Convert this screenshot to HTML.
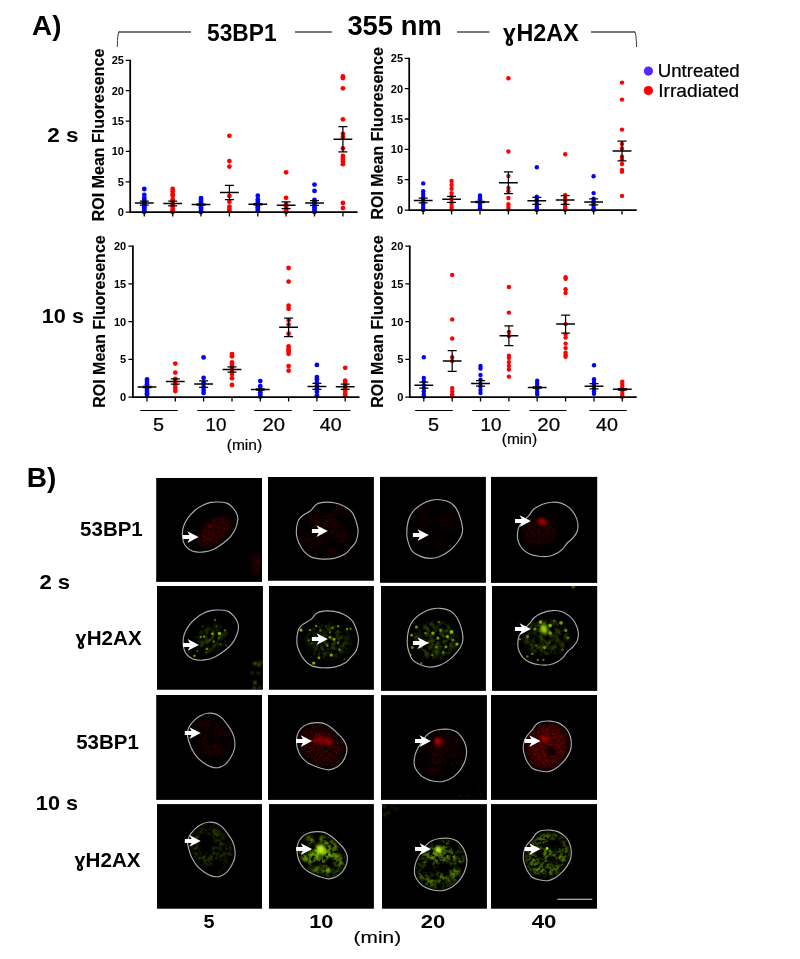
<!DOCTYPE html>
<html lang="en"><head><meta charset="utf-8"><title>Figure</title><style>html,body{margin:0;padding:0;background:#fff}svg{display:block}</style></head><body>
<svg width="800" height="959" viewBox="0 0 800 959" font-family="'Liberation Sans', Arial, sans-serif">
<rect width="800" height="959" fill="#fff"/>
<defs>
<filter id="b05" x="-50%" y="-50%" width="200%" height="200%"><feGaussianBlur stdDeviation="0.75"/></filter>
<filter id="b0" x="-50%" y="-50%" width="200%" height="200%"><feGaussianBlur stdDeviation="0.55"/></filter>
<filter id="b1" x="-50%" y="-50%" width="200%" height="200%"><feGaussianBlur stdDeviation="0.9"/></filter>
<filter id="b2" x="-50%" y="-50%" width="200%" height="200%"><feGaussianBlur stdDeviation="1.6"/></filter>
<filter id="b3" x="-50%" y="-50%" width="200%" height="200%"><feGaussianBlur stdDeviation="3"/></filter>
<filter id="nz" x="0" y="0" width="100%" height="100%"><feTurbulence type="fractalNoise" baseFrequency="0.22" numOctaves="2" seed="3" result="t"/><feColorMatrix in="t" type="matrix" values="0 0 0 0 0  0 0 0 0 0  0 0 0 0 0  3.2 0 0 0 -1.1" result="a"/><feComposite in="SourceGraphic" in2="a" operator="in"/><feGaussianBlur stdDeviation="0.5"/></filter>
<filter id="nz2" x="0" y="0" width="100%" height="100%"><feTurbulence type="fractalNoise" baseFrequency="0.16" numOctaves="2" seed="11" result="t"/><feColorMatrix in="t" type="matrix" values="0 0 0 0 0  0 0 0 0 0  0 0 0 0 0  4 0 0 0 -1.5" result="a"/><feComposite in="SourceGraphic" in2="a" operator="in"/><feGaussianBlur stdDeviation="0.6"/></filter>
</defs>
<g>
<g fill="#0000ff"><circle cx="144.3" cy="189.0" r="2.4"/><circle cx="144.3" cy="194.8" r="2.4"/><circle cx="144.3" cy="198.1" r="2.4"/><circle cx="144.3" cy="200.0" r="2.4"/><circle cx="144.3" cy="201.8" r="2.4"/><circle cx="144.3" cy="203.6" r="2.4"/><circle cx="144.3" cy="205.4" r="2.4"/><circle cx="144.3" cy="207.2" r="2.4"/><circle cx="144.3" cy="209.1" r="2.4"/><circle cx="144.3" cy="210.9" r="2.4"/><circle cx="144.3" cy="212.1" r="2.4"/></g>
<g fill="#ff0000"><circle cx="172.7" cy="189.0" r="2.4"/><circle cx="172.7" cy="191.5" r="2.4"/><circle cx="172.7" cy="193.9" r="2.4"/><circle cx="172.7" cy="195.7" r="2.4"/><circle cx="172.7" cy="199.4" r="2.4"/><circle cx="172.7" cy="201.8" r="2.4"/><circle cx="172.7" cy="204.2" r="2.4"/><circle cx="172.7" cy="206.6" r="2.4"/><circle cx="172.7" cy="209.1" r="2.4"/><circle cx="172.7" cy="210.9" r="2.4"/><circle cx="172.7" cy="212.1" r="2.4"/></g>
<g fill="#0000ff"><circle cx="201.0" cy="198.1" r="2.4"/><circle cx="201.0" cy="200.0" r="2.4"/><circle cx="201.0" cy="201.8" r="2.4"/><circle cx="201.0" cy="203.6" r="2.4"/><circle cx="201.0" cy="205.4" r="2.4"/><circle cx="201.0" cy="207.2" r="2.4"/><circle cx="201.0" cy="209.1" r="2.4"/><circle cx="201.0" cy="210.9" r="2.4"/><circle cx="201.0" cy="212.1" r="2.4"/></g>
<g fill="#ff0000"><circle cx="229.4" cy="135.8" r="2.4"/><circle cx="229.4" cy="161.1" r="2.4"/><circle cx="229.4" cy="166.6" r="2.4"/><circle cx="229.4" cy="195.9" r="2.4"/><circle cx="229.4" cy="201.8" r="2.4"/><circle cx="229.4" cy="206.6" r="2.4"/><circle cx="229.4" cy="208.8" r="2.4"/><circle cx="229.4" cy="210.9" r="2.4"/></g>
<g fill="#0000ff"><circle cx="257.8" cy="195.7" r="2.4"/><circle cx="257.8" cy="199.4" r="2.4"/><circle cx="257.8" cy="201.8" r="2.4"/><circle cx="257.8" cy="203.6" r="2.4"/><circle cx="257.8" cy="205.4" r="2.4"/><circle cx="257.8" cy="207.2" r="2.4"/><circle cx="257.8" cy="209.1" r="2.4"/><circle cx="257.8" cy="210.9" r="2.4"/></g>
<g fill="#ff0000"><circle cx="286.1" cy="172.3" r="2.4"/><circle cx="286.1" cy="197.8" r="2.4"/><circle cx="286.1" cy="204.2" r="2.4"/><circle cx="286.1" cy="206.6" r="2.4"/><circle cx="286.1" cy="208.5" r="2.4"/><circle cx="286.1" cy="210.3" r="2.4"/><circle cx="286.1" cy="212.1" r="2.4"/></g>
<g fill="#0000ff"><circle cx="314.5" cy="184.6" r="2.4"/><circle cx="314.5" cy="190.9" r="2.4"/><circle cx="314.5" cy="200.0" r="2.4"/><circle cx="314.5" cy="201.8" r="2.4"/><circle cx="314.5" cy="203.6" r="2.4"/><circle cx="314.5" cy="205.4" r="2.4"/><circle cx="314.5" cy="207.2" r="2.4"/><circle cx="314.5" cy="209.1" r="2.4"/><circle cx="314.5" cy="210.9" r="2.4"/><circle cx="314.5" cy="212.1" r="2.4"/></g>
<g fill="#ff0000"><circle cx="342.9" cy="76.5" r="2.4"/><circle cx="342.9" cy="78.0" r="2.4"/><circle cx="342.9" cy="88.3" r="2.4"/><circle cx="342.9" cy="119.3" r="2.4"/><circle cx="342.9" cy="133.8" r="2.4"/><circle cx="342.9" cy="136.9" r="2.4"/><circle cx="342.9" cy="148.4" r="2.4"/><circle cx="342.9" cy="155.9" r="2.4"/><circle cx="342.9" cy="158.7" r="2.4"/><circle cx="342.9" cy="161.4" r="2.4"/><circle cx="342.9" cy="164.2" r="2.4"/><circle cx="342.9" cy="203.0" r="2.4"/><circle cx="342.9" cy="208.1" r="2.4"/></g>
<path d="M130.2 59.8V212.1H357.6" fill="none" stroke="#000" stroke-width="1.75"/>
<path d="M125.7 212.1H130.2M125.7 181.8H130.2M125.7 151.4H130.2M125.7 121.1H130.2M125.7 90.7H130.2M125.7 60.4H130.2M144.3 212.1V216.5M172.7 212.1V216.5M201.0 212.1V216.5M229.4 212.1V216.5M257.8 212.1V216.5M286.1 212.1V216.5M314.5 212.1V216.5M342.9 212.1V216.5" fill="none" stroke="#000" stroke-width="1.3"/>
<text x="123.9" y="216.0" font-size="11" font-weight="bold" text-anchor="end">0</text>
<text x="123.9" y="185.7" font-size="11" font-weight="bold" text-anchor="end">5</text>
<text x="123.9" y="155.3" font-size="11" font-weight="bold" text-anchor="end">10</text>
<text x="123.9" y="125.0" font-size="11" font-weight="bold" text-anchor="end">15</text>
<text x="123.9" y="94.6" font-size="11" font-weight="bold" text-anchor="end">20</text>
<text x="123.9" y="64.3" font-size="11" font-weight="bold" text-anchor="end">25</text>
<path d="M134.9 203.1H153.7M163.3 203.4H182.1M191.6 204.6H210.4M220.0 192.4H238.8M248.4 204.3H267.2M276.8 205.2H295.5M305.1 203.0H323.9M333.5 139.3H352.3" fill="none" stroke="#000" stroke-width="1.5"/>
<path d="M144.3 201.1V205.1M139.8 201.1H148.8M139.8 205.1H148.8M172.7 201.0V205.8M168.2 201.0H177.2M168.2 205.8H177.2M196.5 204.0H205.5M196.5 205.2H205.5M229.4 185.3V199.5M224.9 185.3H233.9M224.9 199.5H233.9M253.3 203.7H262.3M253.3 204.9H262.3M286.1 201.8V208.5M281.6 201.8H290.6M281.6 208.5H290.6M314.5 200.6V205.4M310.0 200.6H319.0M310.0 205.4H319.0M342.9 126.7V151.9M338.4 126.7H347.4M338.4 151.9H347.4" fill="none" stroke="#000" stroke-width="1.25"/>
<text transform="translate(103.6 221.2) rotate(-90)" font-size="16" font-weight="bold" stroke="#000" stroke-width="0.12">ROI Mean Fluoresence</text>
</g>
<g>
<g fill="#0000ff"><circle cx="423.2" cy="183.4" r="2.2"/><circle cx="423.2" cy="191.3" r="2.2"/><circle cx="423.2" cy="194.0" r="2.2"/><circle cx="423.2" cy="196.7" r="2.2"/><circle cx="423.2" cy="199.8" r="2.2"/><circle cx="423.2" cy="202.2" r="2.2"/><circle cx="423.2" cy="204.6" r="2.2"/><circle cx="423.2" cy="207.1" r="2.2"/><circle cx="423.2" cy="208.9" r="2.2"/><circle cx="423.2" cy="210.1" r="2.2"/></g>
<g fill="#ff0000"><circle cx="451.6" cy="181.0" r="2.2"/><circle cx="451.6" cy="184.9" r="2.2"/><circle cx="451.6" cy="188.8" r="2.2"/><circle cx="451.6" cy="193.1" r="2.2"/><circle cx="451.6" cy="196.7" r="2.2"/><circle cx="451.6" cy="199.8" r="2.2"/><circle cx="451.6" cy="204.0" r="2.2"/><circle cx="451.6" cy="207.1" r="2.2"/><circle cx="451.6" cy="209.5" r="2.2"/></g>
<g fill="#0000ff"><circle cx="480.0" cy="195.5" r="2.2"/><circle cx="480.0" cy="197.3" r="2.2"/><circle cx="480.0" cy="199.2" r="2.2"/><circle cx="480.0" cy="201.0" r="2.2"/><circle cx="480.0" cy="202.8" r="2.2"/><circle cx="480.0" cy="204.6" r="2.2"/><circle cx="480.0" cy="206.5" r="2.2"/><circle cx="480.0" cy="208.3" r="2.2"/></g>
<g fill="#ff0000"><circle cx="508.4" cy="78.3" r="2.2"/><circle cx="508.4" cy="151.5" r="2.2"/><circle cx="508.4" cy="176.1" r="2.2"/><circle cx="508.4" cy="187.9" r="2.2"/><circle cx="508.4" cy="191.3" r="2.2"/><circle cx="508.4" cy="198.0" r="2.2"/><circle cx="508.4" cy="204.3" r="2.2"/><circle cx="508.4" cy="207.1" r="2.2"/><circle cx="508.4" cy="209.5" r="2.2"/></g>
<g fill="#0000ff"><circle cx="536.8" cy="167.2" r="2.2"/><circle cx="536.8" cy="196.7" r="2.2"/><circle cx="536.8" cy="199.2" r="2.2"/><circle cx="536.8" cy="201.6" r="2.2"/><circle cx="536.8" cy="204.0" r="2.2"/><circle cx="536.8" cy="206.5" r="2.2"/><circle cx="536.8" cy="208.3" r="2.2"/><circle cx="536.8" cy="210.1" r="2.2"/></g>
<g fill="#ff0000"><circle cx="565.2" cy="154.3" r="2.2"/><circle cx="565.2" cy="194.9" r="2.2"/><circle cx="565.2" cy="198.0" r="2.2"/><circle cx="565.2" cy="201.0" r="2.2"/><circle cx="565.2" cy="204.0" r="2.2"/><circle cx="565.2" cy="206.5" r="2.2"/><circle cx="565.2" cy="208.3" r="2.2"/><circle cx="565.2" cy="210.1" r="2.2"/></g>
<g fill="#0000ff"><circle cx="593.6" cy="176.2" r="2.2"/><circle cx="593.6" cy="193.1" r="2.2"/><circle cx="593.6" cy="198.6" r="2.2"/><circle cx="593.6" cy="201.0" r="2.2"/><circle cx="593.6" cy="203.4" r="2.2"/><circle cx="593.6" cy="205.8" r="2.2"/><circle cx="593.6" cy="208.3" r="2.2"/><circle cx="593.6" cy="210.1" r="2.2"/></g>
<g fill="#ff0000"><circle cx="622.0" cy="82.6" r="2.2"/><circle cx="622.0" cy="99.6" r="2.2"/><circle cx="622.0" cy="129.6" r="2.2"/><circle cx="622.0" cy="143.9" r="2.2"/><circle cx="622.0" cy="148.5" r="2.2"/><circle cx="622.0" cy="156.7" r="2.2"/><circle cx="622.0" cy="159.4" r="2.2"/><circle cx="622.0" cy="164.0" r="2.2"/><circle cx="622.0" cy="170.0" r="2.2"/><circle cx="622.0" cy="171.8" r="2.2"/><circle cx="622.0" cy="195.9" r="2.2"/></g>
<path d="M409.2 57.7V210.1H636.7" fill="none" stroke="#000" stroke-width="1.75"/>
<path d="M404.7 210.1H409.2M404.7 179.7H409.2M404.7 149.4H409.2M404.7 119.0H409.2M404.7 88.7H409.2M404.7 58.3H409.2M423.2 210.1V214.5M451.6 210.1V214.5M480.0 210.1V214.5M508.4 210.1V214.5M536.8 210.1V214.5M565.2 210.1V214.5M593.6 210.1V214.5M622.0 210.1V214.5" fill="none" stroke="#000" stroke-width="1.3"/>
<text x="403.1" y="214.0" font-size="11" font-weight="bold" text-anchor="end">0</text>
<text x="403.1" y="183.6" font-size="11" font-weight="bold" text-anchor="end">5</text>
<text x="403.1" y="153.3" font-size="11" font-weight="bold" text-anchor="end">10</text>
<text x="403.1" y="122.9" font-size="11" font-weight="bold" text-anchor="end">15</text>
<text x="403.1" y="92.6" font-size="11" font-weight="bold" text-anchor="end">20</text>
<text x="403.1" y="62.2" font-size="11" font-weight="bold" text-anchor="end">25</text>
<path d="M413.8 200.4H432.6M442.2 199.3H461.0M470.6 201.9H489.4M499.0 182.8H517.8M527.4 200.8H546.2M555.8 199.9H574.6M584.2 201.9H603.0M612.6 151.0H631.4" fill="none" stroke="#000" stroke-width="1.5"/>
<path d="M423.2 198.0V202.8M418.7 198.0H427.7M418.7 202.8H427.7M451.6 196.3V202.3M447.1 196.3H456.1M447.1 202.3H456.1M475.5 201.3H484.5M475.5 202.5H484.5M508.4 171.8V193.7M503.9 171.8H512.9M503.9 193.7H512.9M536.8 197.3V204.3M532.3 197.3H541.3M532.3 204.3H541.3M565.2 195.5V204.3M560.7 195.5H569.7M560.7 204.3H569.7M593.6 198.9V204.9M589.1 198.9H598.1M589.1 204.9H598.1M622.0 141.2V160.9M617.5 141.2H626.5M617.5 160.9H626.5" fill="none" stroke="#000" stroke-width="1.25"/>
<text transform="translate(383.2 219.6) rotate(-90)" font-size="16" font-weight="bold" stroke="#000" stroke-width="0.12">ROI Mean Fluoresence</text>
</g>
<g>
<g fill="#0000ff"><circle cx="147.0" cy="379.5" r="2.4"/><circle cx="147.0" cy="382.0" r="2.4"/><circle cx="147.0" cy="384.3" r="2.4"/><circle cx="147.0" cy="386.5" r="2.4"/><circle cx="147.0" cy="388.8" r="2.4"/><circle cx="147.0" cy="391.1" r="2.4"/><circle cx="147.0" cy="393.3" r="2.4"/><circle cx="147.0" cy="394.8" r="2.4"/></g>
<g fill="#ff0000"><circle cx="175.3" cy="363.6" r="2.4"/><circle cx="175.3" cy="372.6" r="2.4"/><circle cx="175.3" cy="379.0" r="2.4"/><circle cx="175.3" cy="382.0" r="2.4"/><circle cx="175.3" cy="385.0" r="2.4"/><circle cx="175.3" cy="388.0" r="2.4"/><circle cx="175.3" cy="391.1" r="2.4"/></g>
<g fill="#0000ff"><circle cx="203.6" cy="357.4" r="2.4"/><circle cx="203.6" cy="377.9" r="2.4"/><circle cx="203.6" cy="382.8" r="2.4"/><circle cx="203.6" cy="386.9" r="2.4"/><circle cx="203.6" cy="389.9" r="2.4"/><circle cx="203.6" cy="392.9" r="2.4"/></g>
<g fill="#ff0000"><circle cx="232.0" cy="354.1" r="2.4"/><circle cx="232.0" cy="356.3" r="2.4"/><circle cx="232.0" cy="362.4" r="2.4"/><circle cx="232.0" cy="365.0" r="2.4"/><circle cx="232.0" cy="368.0" r="2.4"/><circle cx="232.0" cy="371.1" r="2.4"/><circle cx="232.0" cy="374.1" r="2.4"/><circle cx="232.0" cy="378.2" r="2.4"/><circle cx="232.0" cy="385.0" r="2.4"/></g>
<g fill="#0000ff"><circle cx="260.3" cy="381.1" r="2.4"/><circle cx="260.3" cy="386.2" r="2.4"/><circle cx="260.3" cy="389.6" r="2.4"/><circle cx="260.3" cy="392.2" r="2.4"/><circle cx="260.3" cy="394.8" r="2.4"/><circle cx="260.3" cy="396.6" r="2.4"/></g>
<g fill="#ff0000"><circle cx="288.6" cy="268.0" r="2.4"/><circle cx="288.6" cy="281.6" r="2.4"/><circle cx="288.6" cy="305.7" r="2.4"/><circle cx="288.6" cy="308.8" r="2.4"/><circle cx="288.6" cy="320.1" r="2.4"/><circle cx="288.6" cy="324.6" r="2.4"/><circle cx="288.6" cy="333.7" r="2.4"/><circle cx="288.6" cy="346.5" r="2.4"/><circle cx="288.6" cy="349.2" r="2.4"/><circle cx="288.6" cy="351.6" r="2.4"/><circle cx="288.6" cy="353.8" r="2.4"/><circle cx="288.6" cy="366.1" r="2.4"/><circle cx="288.6" cy="370.7" r="2.4"/></g>
<g fill="#0000ff"><circle cx="316.9" cy="364.9" r="2.4"/><circle cx="316.9" cy="377.1" r="2.4"/><circle cx="316.9" cy="379.3" r="2.4"/><circle cx="316.9" cy="382.8" r="2.4"/><circle cx="316.9" cy="385.8" r="2.4"/><circle cx="316.9" cy="388.8" r="2.4"/><circle cx="316.9" cy="391.8" r="2.4"/><circle cx="316.9" cy="395.6" r="2.4"/></g>
<g fill="#ff0000"><circle cx="345.2" cy="367.8" r="2.4"/><circle cx="345.2" cy="380.7" r="2.4"/><circle cx="345.2" cy="382.8" r="2.4"/><circle cx="345.2" cy="385.8" r="2.4"/><circle cx="345.2" cy="388.4" r="2.4"/><circle cx="345.2" cy="391.1" r="2.4"/><circle cx="345.2" cy="393.7" r="2.4"/><circle cx="345.2" cy="396.0" r="2.4"/></g>
<path d="M132.9 245.5V397.1H359.5" fill="none" stroke="#000" stroke-width="1.75"/>
<path d="M128.4 397.1H132.9M128.4 359.4H132.9M128.4 321.6H132.9M128.4 283.9H132.9M128.4 246.1H132.9M147.0 397.1V401.5M175.3 397.1V401.5M203.6 397.1V401.5M232.0 397.1V401.5M260.3 397.1V401.5M288.6 397.1V401.5M316.9 397.1V401.5M345.2 397.1V401.5" fill="none" stroke="#000" stroke-width="1.3"/>
<text x="126.2" y="401.0" font-size="11" font-weight="bold" text-anchor="end">0</text>
<text x="126.2" y="363.2" font-size="11" font-weight="bold" text-anchor="end">5</text>
<text x="126.2" y="325.5" font-size="11" font-weight="bold" text-anchor="end">10</text>
<text x="126.2" y="287.8" font-size="11" font-weight="bold" text-anchor="end">15</text>
<text x="126.2" y="250.0" font-size="11" font-weight="bold" text-anchor="end">20</text>
<path d="M137.6 386.9H156.4M165.9 381.5H184.7M194.2 384.1H213.0M222.6 369.5H241.4M250.9 389.6H269.7M279.2 327.3H298.0M307.5 386.4H326.3M335.8 386.8H354.6" fill="none" stroke="#000" stroke-width="1.5"/>
<path d="M142.5 386.3H151.5M142.5 387.5H151.5M175.3 378.9V384.2M170.8 378.9H179.8M170.8 384.2H179.8M203.6 380.9V387.3M199.1 380.9H208.1M199.1 387.3H208.1M232.0 366.9V372.2M227.5 366.9H236.5M227.5 372.2H236.5M255.8 388.9H264.8M255.8 390.2H264.8M288.6 318.1V336.5M284.1 318.1H293.1M284.1 336.5H293.1M316.9 383.4V389.3M312.4 383.4H321.4M312.4 389.3H321.4M345.2 384.2V389.3M340.7 384.2H349.7M340.7 389.3H349.7" fill="none" stroke="#000" stroke-width="1.25"/>
<text transform="translate(105.3 407.8) rotate(-90)" font-size="16" font-weight="bold" stroke="#000" stroke-width="0.12">ROI Mean Fluoresence</text>
<path d="M140.2 410.5H177.8M197.2 410.5H234.8M254.2 410.5H291.7M313.0 410.5H350.5" stroke="#000" stroke-width="1.1" fill="none"/>
<text transform="translate(152.95 430.56) scale(1 0.940)" font-size="19.89" stroke="#000" stroke-width="0.25">5</text>
<text transform="translate(205.59 430.57) scale(1 0.981)" font-size="18.80" stroke="#000" stroke-width="0.25">10</text>
<text transform="translate(262.49 430.57) scale(1 0.911)" font-size="20.24" stroke="#000" stroke-width="0.25">20</text>
<text transform="translate(319.76 430.57) scale(1 0.942)" font-size="19.57" stroke="#000" stroke-width="0.25">40</text>
<text transform="translate(226.73 450.15) scale(1 0.961)" font-size="15.57" stroke="#000" stroke-width="0.2">(min)</text>
</g>
<g>
<g fill="#0000ff"><circle cx="423.8" cy="357.2" r="2.2"/><circle cx="423.8" cy="377.9" r="2.2"/><circle cx="423.8" cy="381.3" r="2.2"/><circle cx="423.8" cy="385.1" r="2.2"/><circle cx="423.8" cy="388.1" r="2.2"/><circle cx="423.8" cy="391.2" r="2.2"/><circle cx="423.8" cy="394.2" r="2.2"/><circle cx="423.8" cy="396.6" r="2.2"/></g>
<g fill="#ff0000"><circle cx="452.2" cy="274.9" r="2.2"/><circle cx="452.2" cy="319.4" r="2.2"/><circle cx="452.2" cy="338.5" r="2.2"/><circle cx="452.2" cy="357.3" r="2.2"/><circle cx="452.2" cy="361.0" r="2.2"/><circle cx="452.2" cy="388.1" r="2.2"/><circle cx="452.2" cy="391.2" r="2.2"/><circle cx="452.2" cy="394.2" r="2.2"/><circle cx="452.2" cy="396.4" r="2.2"/></g>
<g fill="#0000ff"><circle cx="480.5" cy="365.9" r="2.2"/><circle cx="480.5" cy="368.5" r="2.2"/><circle cx="480.5" cy="375.0" r="2.2"/><circle cx="480.5" cy="379.8" r="2.2"/><circle cx="480.5" cy="383.6" r="2.2"/><circle cx="480.5" cy="386.6" r="2.2"/><circle cx="480.5" cy="390.0" r="2.2"/><circle cx="480.5" cy="393.0" r="2.2"/></g>
<g fill="#ff0000"><circle cx="508.9" cy="287.0" r="2.2"/><circle cx="508.9" cy="312.6" r="2.2"/><circle cx="508.9" cy="331.9" r="2.2"/><circle cx="508.9" cy="336.0" r="2.2"/><circle cx="508.9" cy="355.7" r="2.2"/><circle cx="508.9" cy="357.9" r="2.2"/><circle cx="508.9" cy="362.1" r="2.2"/><circle cx="508.9" cy="365.9" r="2.2"/><circle cx="508.9" cy="369.6" r="2.2"/><circle cx="508.9" cy="376.6" r="2.2"/></g>
<g fill="#0000ff"><circle cx="537.2" cy="380.6" r="2.2"/><circle cx="537.2" cy="382.9" r="2.2"/><circle cx="537.2" cy="385.1" r="2.2"/><circle cx="537.2" cy="387.4" r="2.2"/><circle cx="537.2" cy="389.6" r="2.2"/><circle cx="537.2" cy="391.9" r="2.2"/><circle cx="537.2" cy="394.3" r="2.2"/></g>
<g fill="#ff0000"><circle cx="565.6" cy="277.2" r="2.2"/><circle cx="565.6" cy="278.7" r="2.2"/><circle cx="565.6" cy="289.2" r="2.2"/><circle cx="565.6" cy="293.0" r="2.2"/><circle cx="565.6" cy="324.1" r="2.2"/><circle cx="565.6" cy="334.5" r="2.2"/><circle cx="565.6" cy="337.6" r="2.2"/><circle cx="565.6" cy="343.6" r="2.2"/><circle cx="565.6" cy="348.1" r="2.2"/><circle cx="565.6" cy="352.8" r="2.2"/><circle cx="565.6" cy="354.9" r="2.2"/><circle cx="565.6" cy="356.7" r="2.2"/></g>
<g fill="#0000ff"><circle cx="594.0" cy="365.3" r="2.2"/><circle cx="594.0" cy="379.3" r="2.2"/><circle cx="594.0" cy="382.1" r="2.2"/><circle cx="594.0" cy="384.7" r="2.2"/><circle cx="594.0" cy="388.5" r="2.2"/><circle cx="594.0" cy="391.2" r="2.2"/><circle cx="594.0" cy="393.8" r="2.2"/></g>
<g fill="#ff0000"><circle cx="622.3" cy="381.6" r="2.2"/><circle cx="622.3" cy="384.0" r="2.2"/><circle cx="622.3" cy="386.6" r="2.2"/><circle cx="622.3" cy="389.3" r="2.2"/><circle cx="622.3" cy="391.9" r="2.2"/><circle cx="622.3" cy="394.9" r="2.2"/><circle cx="622.3" cy="396.7" r="2.2"/></g>
<path d="M409.8 245.6V397.2H636.7" fill="none" stroke="#000" stroke-width="1.75"/>
<path d="M405.3 397.2H409.8M405.3 359.4H409.8M405.3 321.7H409.8M405.3 283.9H409.8M405.3 246.2H409.8M423.8 397.2V401.6M452.2 397.2V401.6M480.5 397.2V401.6M508.9 397.2V401.6M537.2 397.2V401.6M565.6 397.2V401.6M594.0 397.2V401.6M622.3 397.2V401.6" fill="none" stroke="#000" stroke-width="1.3"/>
<text x="403.3" y="401.1" font-size="11" font-weight="bold" text-anchor="end">0</text>
<text x="403.3" y="363.3" font-size="11" font-weight="bold" text-anchor="end">5</text>
<text x="403.3" y="325.6" font-size="11" font-weight="bold" text-anchor="end">10</text>
<text x="403.3" y="287.8" font-size="11" font-weight="bold" text-anchor="end">15</text>
<text x="403.3" y="250.1" font-size="11" font-weight="bold" text-anchor="end">20</text>
<path d="M414.4 385.2H433.2M442.8 361.0H461.6M471.1 383.4H489.9M499.5 335.7H518.3M527.8 387.5H546.6M556.2 324.1H575.0M584.6 386.3H603.4M612.9 389.3H631.7" fill="none" stroke="#000" stroke-width="1.5"/>
<path d="M423.8 382.2V388.2M419.3 382.2H428.3M419.3 388.2H428.3M452.2 350.5V371.4M447.7 350.5H456.7M447.7 371.4H456.7M480.5 380.7V386.1M476.0 380.7H485.0M476.0 386.1H485.0M508.9 325.9V345.6M504.4 325.9H513.4M504.4 345.6H513.4M532.7 386.9H541.7M532.7 388.1H541.7M565.6 315.1V333.2M561.1 315.1H570.1M561.1 333.2H570.1M594.0 383.6V388.9M589.5 383.6H598.5M589.5 388.9H598.5M617.8 388.7H626.8M617.8 390.0H626.8" fill="none" stroke="#000" stroke-width="1.25"/>
<text transform="translate(383.2 407.8) rotate(-90)" font-size="16" font-weight="bold" stroke="#000" stroke-width="0.12">ROI Mean Fluoresence</text>
<path d="M415.2 410.5H452.8M472.2 410.5H509.8M529.3 410.5H566.5M589.3 410.5H626.8" stroke="#000" stroke-width="1.1" fill="none"/>
<text transform="translate(427.95 430.56) scale(1 0.940)" font-size="19.89" stroke="#000" stroke-width="0.25">5</text>
<text transform="translate(480.59 430.57) scale(1 0.981)" font-size="18.80" stroke="#000" stroke-width="0.25">10</text>
<text transform="translate(537.27 430.57) scale(1 0.898)" font-size="20.54" stroke="#000" stroke-width="0.25">20</text>
<text transform="translate(596.06 430.57) scale(1 0.936)" font-size="19.71" stroke="#000" stroke-width="0.25">40</text>
<text transform="translate(501.73 443.66) scale(1 0.973)" font-size="15.55" stroke="#000" stroke-width="0.2">(min)</text>
</g>
<text transform="translate(32.11 35.41) scale(1 0.970)" font-size="27.76" font-weight="bold">A)</text>
<text transform="translate(26.86 487.44) scale(1 0.957)" font-size="28.00" font-weight="bold">B)</text>
<text transform="translate(207.07 41.21) scale(1 1.037)" font-size="22.75" font-weight="bold">53BP1</text>
<text transform="translate(347.38 34.91) scale(1 0.990)" font-size="27.39" font-weight="bold">355 nm</text>
<text transform="translate(516.53 40.60) scale(1 0.996)" font-size="23.32" font-weight="bold">H2AX</text>
<text transform="translate(502.99 40.76) scale(1 1.010)" font-size="22.83" font-weight="bold">ɣ</text>
<text transform="translate(47.31 141.50) scale(1 0.906)" font-size="22.55" font-weight="bold">2 s</text>
<text transform="translate(41.74 322.74) scale(1 0.967)" font-size="21.71" font-weight="bold">10 s</text>
<text transform="translate(80.09 535.65) scale(1 0.976)" font-size="20.50" font-weight="bold">53BP1</text>
<text transform="translate(76.19 748.55) scale(1 0.965)" font-size="20.50" font-weight="bold">53BP1</text>
<text transform="translate(86.67 644.80) scale(1 0.994)" font-size="20.63" font-weight="bold">H2AX</text>
<text transform="translate(75.60 644.66) scale(1 0.996)" font-size="19.54" font-weight="bold">ɣ</text>
<text transform="translate(85.51 866.80) scale(1 0.993)" font-size="20.66" font-weight="bold">H2AX</text>
<text transform="translate(74.50 866.66) scale(1 1.000)" font-size="19.45" font-weight="bold">ɣ</text>
<text transform="translate(39.43 588.74) scale(1 0.942)" font-size="22.13" font-weight="bold">2 s</text>
<text transform="translate(35.84 809.75) scale(1 0.940)" font-size="21.74" font-weight="bold">10 s</text>
<text transform="translate(203.40 928.31) scale(1 0.937)" font-size="19.90" font-weight="bold">5</text>
<text transform="translate(309.14 928.32) scale(1 0.845)" font-size="21.74" font-weight="bold">10</text>
<text transform="translate(420.83 928.32) scale(1 0.834)" font-size="22.03" font-weight="bold">20</text>
<text transform="translate(531.67 928.32) scale(1 0.828)" font-size="22.18" font-weight="bold">40</text>
<text transform="translate(353.59 942.86) scale(1 0.817)" font-size="20.88" stroke="#000" stroke-width="0.2">(min)</text>
<path d="M118.6 32H191M295 32H331.8M457 32H489.5M591 32H635" fill="none" stroke="#7a7a7a" stroke-width="1.9"/>
<path d="M117.3 46.9Q117.5 33 119.2 31.5M634.6 31.5Q636.3 33 636.6 47" fill="none" stroke="#222" stroke-width="0.9"/>
<circle cx="648.4" cy="71.1" r="4.6" fill="#5528ff"/><circle cx="648.4" cy="90.6" r="4.6" fill="#ff0000"/>
<text transform="translate(657.75 77.22) scale(1 0.955)" font-size="18.66" stroke="#000" stroke-width="0.25">Untreated</text><text transform="translate(658.23 97.02) scale(1 0.951)" font-size="19.18" stroke="#000" stroke-width="0.25">Irradiated</text>
<defs>
<clipPath id="c00"><path d="M182.4 534.8C182.3 531.9 182.6 529.3 183.5 526.5C184.4 523.8 185.8 520.9 187.6 518.3C189.5 515.6 192.0 512.9 194.5 510.7C197.0 508.5 200.0 506.6 202.8 505.2C205.5 503.8 208.3 503.0 211.0 502.4C213.8 501.9 216.5 501.9 219.3 502.0C222.0 502.2 225.2 502.4 227.5 503.4C229.8 504.4 231.4 506.2 233.0 507.9C234.6 509.7 236.0 512.2 236.9 514.1C237.7 516.1 238.0 517.3 237.8 519.6C237.6 521.9 236.9 525.1 235.8 527.9C234.6 530.6 233.0 533.6 230.9 536.1C228.9 538.6 226.2 540.8 223.4 543.0C220.5 545.2 217.0 547.7 213.8 549.2C210.5 550.7 207.1 551.5 204.1 551.9C201.1 552.4 198.4 552.4 195.9 551.9C193.4 551.5 190.9 550.6 189.0 549.2C187.1 547.8 185.3 546.1 184.2 543.7C183.1 541.3 182.5 537.6 182.4 534.8Z"/></clipPath>
<clipPath id="c01"><path d="M296.5 534.8C296.2 531.3 296.7 525.5 297.6 522.4C298.4 519.3 299.5 518.1 301.7 516.2C303.9 514.2 308.2 512.6 310.6 510.7C313.0 508.7 314.1 505.9 316.1 504.5C318.2 503.1 320.0 502.7 323.0 502.4C326.0 502.1 330.6 502.1 334.0 502.7C337.4 503.3 340.6 504.3 343.6 505.9C346.6 507.4 349.8 509.5 351.9 512.1C353.9 514.6 355.0 517.9 356.0 521.0C357.0 524.1 358.1 527.2 358.1 530.6C358.1 534.1 357.3 538.6 356.0 541.6C354.7 544.6 352.3 546.4 350.5 548.5C348.7 550.6 347.8 552.4 345.0 554.0C342.3 555.7 337.7 557.6 334.0 558.4C330.3 559.2 326.7 559.2 323.0 559.1C319.3 558.9 315.1 558.6 312.0 557.4C308.9 556.2 306.6 554.3 304.4 551.9C302.3 549.5 300.3 545.9 298.9 543.0C297.6 540.1 296.7 538.2 296.5 534.8Z"/></clipPath>
<clipPath id="c02"><path d="M406.8 534.8C406.7 530.9 407.2 524.9 408.2 521.0C409.2 517.1 410.8 514.1 413.0 511.4C415.2 508.6 418.3 506.3 421.3 504.5C424.2 502.7 427.7 501.2 430.9 500.4C434.1 499.6 437.3 499.3 440.5 499.7C443.7 500.0 447.5 500.9 450.1 502.4C452.8 503.9 454.6 506.0 456.3 508.6C458.0 511.3 459.4 515.0 460.4 518.3C461.5 521.5 462.3 525.1 462.5 527.9C462.7 530.6 462.7 532.2 461.8 534.8C460.9 537.3 459.2 540.3 457.0 543.0C454.8 545.8 451.7 549.0 448.8 551.3C445.8 553.5 442.3 555.6 439.1 556.8C435.9 557.9 432.7 558.5 429.5 558.4C426.3 558.3 422.7 557.3 419.9 556.1C417.0 554.9 414.1 553.2 412.3 551.3C410.5 549.3 409.8 547.1 408.9 544.4C408.0 541.6 406.9 538.6 406.8 534.8Z"/></clipPath>
<clipPath id="c03"><path d="M517.4 536.1C517.4 533.7 517.5 530.4 518.5 527.9C519.5 525.4 521.5 523.2 523.3 521.0C525.1 518.8 527.8 516.8 529.5 514.8C531.2 512.9 531.6 511.0 533.6 509.3C535.7 507.6 538.9 505.7 541.9 504.5C544.9 503.3 548.3 502.4 551.5 502.2C554.7 501.9 558.1 502.2 561.1 503.1C564.1 504.1 567.1 506.0 569.4 507.9C571.7 509.9 573.5 512.2 574.9 514.8C576.3 517.4 577.6 520.9 577.9 523.8C578.2 526.6 577.8 529.6 576.9 532.0C576.1 534.4 574.4 536.4 572.8 538.2C571.2 540.0 569.0 541.2 567.3 543.0C565.6 544.8 564.2 547.5 562.5 549.2C560.8 550.9 559.3 552.1 557.0 553.3C554.7 554.5 551.7 555.8 548.8 556.3C545.8 556.8 542.3 556.7 539.1 556.3C535.9 555.9 532.3 555.2 529.5 554.0C526.8 552.8 524.5 551.1 522.6 549.2C520.8 547.2 519.4 544.5 518.5 542.3C517.6 540.1 517.4 538.5 517.4 536.1Z"/></clipPath>
<clipPath id="c10"><path d="M183.1 642.8C183.0 639.9 183.3 637.3 184.2 634.5C185.1 631.8 186.5 628.9 188.3 626.3C190.1 623.6 192.7 620.9 195.2 618.7C197.7 616.5 200.7 614.6 203.4 613.2C206.2 611.8 208.9 611.0 211.7 610.4C214.4 609.9 217.2 609.9 219.9 610.0C222.7 610.2 225.9 610.4 228.2 611.4C230.5 612.4 232.1 614.2 233.7 615.9C235.2 617.7 236.7 620.2 237.5 622.1C238.3 624.1 238.7 625.3 238.5 627.6C238.3 629.9 237.6 633.1 236.4 635.9C235.3 638.6 233.7 641.6 231.6 644.1C229.6 646.6 226.9 648.8 224.1 651.0C221.2 653.2 217.6 655.7 214.4 657.2C211.2 658.7 207.8 659.5 204.8 659.9C201.8 660.4 199.1 660.4 196.6 659.9C194.0 659.5 191.6 658.6 189.7 657.2C187.7 655.8 186.0 654.1 184.9 651.7C183.8 649.3 183.2 645.6 183.1 642.8Z"/></clipPath>
<clipPath id="c11"><path d="M296.9 643.4C296.6 640.0 297.1 634.2 298.0 631.1C298.8 628.0 299.9 626.8 302.1 624.9C304.3 622.9 308.6 621.3 311.0 619.4C313.4 617.4 314.5 614.6 316.5 613.2C318.6 611.8 320.4 611.4 323.4 611.1C326.4 610.8 331.0 610.8 334.4 611.4C337.9 612.0 341.1 613.0 344.0 614.6C347.0 616.1 350.2 618.2 352.3 620.8C354.4 623.3 355.4 626.6 356.4 629.7C357.4 632.8 358.5 635.9 358.5 639.3C358.5 642.8 357.7 647.3 356.4 650.3C355.2 653.3 352.7 655.1 350.9 657.2C349.1 659.3 348.2 661.0 345.4 662.7C342.7 664.3 338.1 666.2 334.4 667.1C330.7 667.9 327.1 667.9 323.4 667.8C319.7 667.6 315.5 667.3 312.4 666.1C309.3 664.9 307.0 663.0 304.9 660.6C302.7 658.2 300.7 654.6 299.4 651.7C298.0 648.8 297.1 646.9 296.9 643.4Z"/></clipPath>
<clipPath id="c12"><path d="M407.2 643.4C407.1 639.5 407.6 633.6 408.6 629.7C409.6 625.8 411.2 622.8 413.4 620.1C415.6 617.3 418.7 615.0 421.7 613.2C424.6 611.4 428.1 609.9 431.3 609.1C434.5 608.3 437.7 608.0 440.9 608.4C444.1 608.7 447.9 609.6 450.5 611.1C453.2 612.6 455.0 614.7 456.7 617.3C458.4 619.9 459.8 623.7 460.9 626.9C461.9 630.1 462.7 633.8 462.9 636.6C463.1 639.3 463.1 640.9 462.2 643.4C461.3 646.0 459.6 648.9 457.4 651.7C455.2 654.4 452.1 657.6 449.2 659.9C446.2 662.2 442.7 664.2 439.5 665.4C436.3 666.6 433.1 667.2 429.9 667.1C426.7 667.0 423.2 665.9 420.3 664.8C417.4 663.6 414.6 661.9 412.7 659.9C410.9 658.0 410.2 655.8 409.3 653.1C408.4 650.3 407.3 647.3 407.2 643.4Z"/></clipPath>
<clipPath id="c13"><path d="M517.8 644.5C517.8 642.1 517.9 638.8 518.9 636.3C519.9 633.8 521.9 631.6 523.7 629.4C525.6 627.2 528.2 625.2 529.9 623.2C531.6 621.3 532.0 619.4 534.0 617.7C536.1 616.0 539.3 614.1 542.3 612.9C545.3 611.7 548.7 610.8 551.9 610.6C555.1 610.3 558.6 610.6 561.5 611.5C564.5 612.5 567.5 614.4 569.8 616.4C572.1 618.3 573.9 620.6 575.3 623.2C576.7 625.9 578.0 629.3 578.3 632.2C578.7 635.0 578.2 638.0 577.4 640.4C576.5 642.8 574.8 644.8 573.2 646.6C571.6 648.4 569.4 649.6 567.7 651.4C566.0 653.2 564.6 655.9 562.9 657.6C561.2 659.3 559.7 660.5 557.4 661.7C555.1 662.9 552.1 664.2 549.2 664.8C546.2 665.3 542.7 665.1 539.5 664.8C536.3 664.4 532.7 663.6 529.9 662.4C527.2 661.2 524.9 659.5 523.0 657.6C521.2 655.7 519.8 652.9 518.9 650.7C518.0 648.5 517.8 646.9 517.8 644.5Z"/></clipPath>
<clipPath id="c20"><path d="M187.4 733.9C187.4 731.6 187.9 729.2 189.0 727.0C190.1 724.8 192.0 722.6 193.8 720.8C195.6 719.0 197.7 717.3 200.0 716.0C202.3 714.7 205.0 713.6 207.6 713.3C210.1 712.9 212.7 713.1 215.1 713.9C217.5 714.7 219.9 716.2 222.0 718.1C224.1 719.9 225.8 722.5 227.5 724.9C229.2 727.3 231.1 729.9 232.3 732.5C233.5 735.1 234.3 738.0 234.7 740.8C235.0 743.5 235.0 746.3 234.4 749.0C233.8 751.8 232.4 754.7 230.9 757.3C229.4 759.8 227.5 762.4 225.4 764.1C223.4 765.8 221.0 767.1 218.6 767.6C216.2 768.0 213.5 767.7 211.0 766.9C208.5 766.1 205.8 764.5 203.4 762.8C201.0 761.0 198.5 758.9 196.6 756.6C194.6 754.3 193.1 751.6 191.8 749.0C190.4 746.4 189.5 743.3 188.7 740.8C188.0 738.2 187.3 736.2 187.4 733.9Z"/></clipPath>
<clipPath id="c21"><path d="M296.6 743.5C296.5 741.2 296.4 737.8 297.2 735.3C297.9 732.7 299.2 730.3 301.0 728.4C302.8 726.5 305.4 724.9 307.9 724.0C310.4 723.0 313.4 722.7 316.1 722.6C318.9 722.5 321.9 722.7 324.4 723.6C326.9 724.4 329.0 726.0 331.3 727.7C333.5 729.4 336.1 731.8 338.1 733.9C340.2 735.9 342.2 737.9 343.6 740.1C345.0 742.2 346.2 744.5 346.7 746.9C347.1 749.3 346.8 752.0 346.1 754.5C345.4 757.0 343.9 759.9 342.3 762.1C340.6 764.2 338.4 766.3 336.1 767.6C333.8 768.9 331.0 769.8 328.5 769.9C326.0 770.0 323.5 769.0 320.9 768.3C318.4 767.5 315.9 766.6 313.4 765.5C310.9 764.4 308.0 763.1 305.8 761.4C303.6 759.7 301.7 757.3 300.3 755.2C298.9 753.1 298.2 750.9 297.6 749.0C296.9 747.1 296.7 745.8 296.6 743.5Z"/></clipPath>
<clipPath id="c22"><path d="M414.1 762.8C414.1 760.6 414.4 757.6 415.1 755.2C415.7 752.8 416.7 750.5 417.8 748.3C419.0 746.1 420.6 744.2 421.9 742.1C423.3 740.1 424.5 737.7 426.1 735.9C427.7 734.2 429.4 732.9 431.6 731.8C433.7 730.7 436.3 729.9 439.1 729.5C442.0 729.1 445.9 728.9 448.8 729.3C451.6 729.7 454.1 730.5 456.3 731.8C458.5 733.1 460.3 735.3 461.8 737.3C463.3 739.4 464.4 741.8 465.3 744.2C466.1 746.6 466.6 749.1 466.6 751.8C466.6 754.4 466.1 757.4 465.3 760.0C464.4 762.6 463.3 765.2 461.8 767.6C460.3 770.0 458.4 772.5 456.3 774.4C454.3 776.4 451.8 778.1 449.4 779.3C447.0 780.4 444.5 781.2 441.9 781.6C439.2 781.9 436.4 781.8 433.6 781.3C430.9 780.8 427.8 779.8 425.4 778.6C423.0 777.3 420.9 775.5 419.2 773.8C417.5 772.0 416.2 770.1 415.3 768.3C414.5 766.4 414.1 764.9 414.1 762.8Z"/></clipPath>
<clipPath id="c23"><path d="M523.3 749.0C523.2 746.7 523.3 744.4 524.0 742.1C524.7 739.8 526.1 737.3 527.4 735.3C528.8 733.2 530.8 731.6 532.3 729.8C533.7 727.9 534.8 725.6 536.4 724.3C538.0 722.9 539.6 722.0 541.9 721.5C544.2 721.0 547.4 720.9 550.1 721.1C552.9 721.3 555.9 721.8 558.4 722.9C560.9 724.0 563.4 725.9 565.3 727.7C567.1 729.5 568.4 731.7 569.4 733.9C570.4 736.1 570.9 738.2 571.2 740.8C571.4 743.3 571.4 746.4 570.8 749.0C570.1 751.6 568.8 754.2 567.3 756.6C565.8 759.0 563.9 761.4 561.8 763.4C559.8 765.5 557.3 767.6 554.9 768.9C552.5 770.3 550.0 771.4 547.4 771.7C544.7 772.0 541.6 771.3 539.1 770.7C536.6 770.2 534.2 769.7 532.3 768.3C530.3 766.8 528.7 764.1 527.4 762.1C526.2 760.0 525.4 758.1 524.7 755.9C524.0 753.7 523.4 751.3 523.3 749.0Z"/></clipPath>
<clipPath id="c30"><path d="M187.6 842.9C187.7 840.6 188.2 838.2 189.3 836.0C190.4 833.8 192.3 831.6 194.1 829.8C195.9 828.0 198.0 826.3 200.3 825.0C202.6 823.7 205.3 822.6 207.8 822.3C210.4 821.9 213.0 822.1 215.4 822.9C217.8 823.7 220.2 825.2 222.3 827.1C224.3 828.9 226.1 831.5 227.8 833.9C229.5 836.3 231.4 838.9 232.6 841.5C233.8 844.1 234.6 847.0 234.9 849.8C235.3 852.5 235.3 855.3 234.7 858.0C234.0 860.8 232.7 863.7 231.2 866.3C229.7 868.8 227.8 871.4 225.7 873.1C223.7 874.8 221.2 876.1 218.8 876.6C216.4 877.0 213.8 876.7 211.3 875.9C208.8 875.1 206.1 873.5 203.7 871.8C201.3 870.0 198.8 867.9 196.8 865.6C194.9 863.3 193.3 860.6 192.0 858.0C190.7 855.4 189.7 852.3 189.0 849.8C188.3 847.2 187.6 845.2 187.6 842.9Z"/></clipPath>
<clipPath id="c31"><path d="M297.2 852.5C297.1 850.2 297.0 846.8 297.7 844.3C298.4 841.7 299.8 839.3 301.6 837.4C303.3 835.5 305.9 833.9 308.4 833.0C310.9 832.0 313.9 831.7 316.7 831.6C319.4 831.5 322.4 831.7 324.9 832.6C327.4 833.4 329.5 835.0 331.8 836.7C334.1 838.4 336.6 840.8 338.7 842.9C340.7 844.9 342.8 846.9 344.2 849.1C345.6 851.2 346.8 853.5 347.2 855.9C347.6 858.3 347.4 861.0 346.7 863.5C345.9 866.0 344.5 868.9 342.8 871.1C341.1 873.2 338.9 875.3 336.6 876.6C334.3 877.9 331.6 878.8 329.1 878.9C326.5 879.0 324.0 878.0 321.5 877.3C319.0 876.5 316.4 875.6 313.9 874.5C311.4 873.4 308.5 872.1 306.4 870.4C304.2 868.7 302.2 866.3 300.9 864.2C299.5 862.1 298.7 859.9 298.1 858.0C297.5 856.1 297.2 854.8 297.2 852.5Z"/></clipPath>
<clipPath id="c32"><path d="M414.4 871.8C414.3 869.6 414.7 866.6 415.3 864.2C416.0 861.8 416.9 859.5 418.1 857.3C419.2 855.1 420.8 853.2 422.2 851.1C423.6 849.1 424.7 846.7 426.3 844.9C427.9 843.2 429.7 841.9 431.8 840.8C434.0 839.7 436.5 838.9 439.4 838.5C442.3 838.1 446.2 837.9 449.0 838.3C451.9 838.7 454.4 839.5 456.6 840.8C458.8 842.1 460.6 844.3 462.1 846.3C463.6 848.4 464.7 850.8 465.5 853.2C466.3 855.6 466.9 858.1 466.9 860.8C466.9 863.4 466.3 866.4 465.5 869.0C464.7 871.6 463.6 874.2 462.1 876.6C460.6 879.0 458.7 881.5 456.6 883.4C454.5 885.4 452.1 887.1 449.7 888.3C447.3 889.4 444.8 890.2 442.2 890.6C439.5 890.9 436.7 890.8 433.9 890.3C431.2 889.8 428.1 888.8 425.7 887.6C423.2 886.3 421.1 884.5 419.5 882.8C417.8 881.0 416.5 879.1 415.6 877.3C414.8 875.4 414.4 873.9 414.4 871.8Z"/></clipPath>
<clipPath id="c33"><path d="M523.3 858.0C523.2 855.7 523.3 853.4 524.0 851.1C524.7 848.8 526.1 846.3 527.4 844.3C528.8 842.2 530.8 840.6 532.3 838.8C533.7 836.9 534.8 834.6 536.4 833.3C538.0 831.9 539.6 831.0 541.9 830.5C544.2 830.0 547.4 829.9 550.1 830.1C552.9 830.3 555.9 830.8 558.4 831.9C560.9 833.0 563.4 834.9 565.3 836.7C567.1 838.5 568.4 840.7 569.4 842.9C570.4 845.1 570.9 847.2 571.2 849.8C571.4 852.3 571.4 855.4 570.8 858.0C570.1 860.6 568.8 863.2 567.3 865.6C565.8 868.0 563.9 870.4 561.8 872.4C559.8 874.5 557.3 876.6 554.9 877.9C552.5 879.3 550.0 880.4 547.4 880.7C544.7 881.0 541.6 880.3 539.1 879.7C536.6 879.2 534.2 878.7 532.3 877.3C530.3 875.8 528.7 873.1 527.4 871.1C526.2 869.0 525.4 867.1 524.7 864.9C524.0 862.7 523.4 860.3 523.3 858.0Z"/></clipPath>
<clipPath id="t00"><rect x="156.20" y="478.00" width="105.80" height="103.90"/></clipPath>
<clipPath id="t01"><rect x="268.00" y="477.00" width="105.90" height="103.75"/></clipPath>
<clipPath id="t02"><rect x="380.00" y="476.90" width="105.90" height="105.90"/></clipPath>
<clipPath id="t03"><rect x="491.00" y="476.90" width="106.20" height="106.00"/></clipPath>
<clipPath id="t10"><rect x="157.00" y="586.00" width="105.90" height="103.75"/></clipPath>
<clipPath id="t11"><rect x="269.00" y="586.00" width="104.90" height="103.75"/></clipPath>
<clipPath id="t12"><rect x="381.00" y="586.00" width="104.90" height="104.90"/></clipPath>
<clipPath id="t13"><rect x="492.00" y="586.00" width="105.20" height="104.90"/></clipPath>
<clipPath id="t20"><rect x="156.20" y="695.00" width="105.80" height="104.90"/></clipPath>
<clipPath id="t21"><rect x="268.00" y="695.00" width="105.90" height="104.90"/></clipPath>
<clipPath id="t22"><rect x="381.00" y="695.10" width="105.90" height="104.80"/></clipPath>
<clipPath id="t23"><rect x="491.00" y="695.00" width="106.00" height="104.90"/></clipPath>
<clipPath id="t30"><rect x="157.00" y="804.10" width="105.00" height="104.60"/></clipPath>
<clipPath id="t31"><rect x="269.00" y="804.10" width="104.90" height="104.60"/></clipPath>
<clipPath id="t32"><rect x="382.00" y="804.10" width="104.90" height="104.60"/></clipPath>
<clipPath id="t33"><rect x="491.00" y="804.10" width="106.00" height="104.60"/></clipPath>
</defs>
<rect x="156.20" y="478.00" width="105.80" height="103.90" fill="#000"/>
<rect x="268.00" y="477.00" width="105.90" height="103.75" fill="#000"/>
<rect x="380.00" y="476.90" width="105.90" height="105.90" fill="#000"/>
<rect x="491.00" y="476.90" width="106.20" height="106.00" fill="#000"/>
<rect x="157.00" y="586.00" width="105.90" height="103.75" fill="#000"/>
<rect x="269.00" y="586.00" width="104.90" height="103.75" fill="#000"/>
<rect x="381.00" y="586.00" width="104.90" height="104.90" fill="#000"/>
<rect x="492.00" y="586.00" width="105.20" height="104.90" fill="#000"/>
<rect x="156.20" y="695.00" width="105.80" height="104.90" fill="#000"/>
<rect x="268.00" y="695.00" width="105.90" height="104.90" fill="#000"/>
<rect x="381.00" y="695.10" width="105.90" height="104.80" fill="#000"/>
<rect x="491.00" y="695.00" width="106.00" height="104.90" fill="#000"/>
<rect x="157.00" y="804.10" width="105.00" height="104.60" fill="#000"/>
<rect x="269.00" y="804.10" width="104.90" height="104.60" fill="#000"/>
<rect x="382.00" y="804.10" width="104.90" height="104.60" fill="#000"/>
<rect x="491.00" y="804.10" width="106.00" height="104.60" fill="#000"/>
<g clip-path="url(#t00)"><g fill="#a00000" filter="url(#b1)"><circle cx="258.4" cy="562.3" r="1.3" opacity="0.60"/><circle cx="255.0" cy="558.1" r="1.2" opacity="0.30"/><circle cx="252.3" cy="566.4" r="1.2" opacity="0.30"/><circle cx="257.8" cy="571.9" r="1.2" opacity="0.30"/></g><ellipse cx="257.1" cy="563.6" rx="4.0" ry="11.0" fill="#400000" opacity="0.60" filter="url(#b3)" transform="rotate(0 257.1 563.6)"/></g>
<g clip-path="url(#c00)"><filter id="f1" x="-20%" y="-20%" width="140%" height="140%" color-interpolation-filters="sRGB"><feGaussianBlur in="SourceGraphic" stdDeviation="4.0" result="bl"/><feComponentTransfer in="bl" result="sh"><feFuncA type="linear" slope="2" intercept="-1"/></feComponentTransfer><feTurbulence type="fractalNoise" baseFrequency="0.55" numOctaves="2" seed="4" result="t"/><feColorMatrix in="t" type="matrix" values="0 0 0 0 0  0 0 0 0 0  0 0 0 0 0  2.40 0 0 0 -0.70" result="n"/><feComposite in="sh" in2="n" operator="in" result="c"/><feGaussianBlur in="c" stdDeviation="0.4"/></filter><ellipse cx="214.4" cy="531.3" rx="24.0" ry="14.0" transform="rotate(-38 214.4 531.3)" fill="#800000" opacity="0.62" filter="url(#f1)"/><g fill="#c00000" filter="url(#b1)"><circle cx="210.3" cy="526.5" r="1.2" opacity="0.60"/><circle cx="213.8" cy="520.3" r="1.0" opacity="0.40"/><circle cx="205.5" cy="540.3" r="1.0" opacity="0.40"/></g></g>
<path d="M182.4 534.8C182.3 531.9 182.6 529.3 183.5 526.5C184.4 523.8 185.8 520.9 187.6 518.3C189.5 515.6 192.0 512.9 194.5 510.7C197.0 508.5 200.0 506.6 202.8 505.2C205.5 503.8 208.3 503.0 211.0 502.4C213.8 501.9 216.5 501.9 219.3 502.0C222.0 502.2 225.2 502.4 227.5 503.4C229.8 504.4 231.4 506.2 233.0 507.9C234.6 509.7 236.0 512.2 236.9 514.1C237.7 516.1 238.0 517.3 237.8 519.6C237.6 521.9 236.9 525.1 235.8 527.9C234.6 530.6 233.0 533.6 230.9 536.1C228.9 538.6 226.2 540.8 223.4 543.0C220.5 545.2 217.0 547.7 213.8 549.2C210.5 550.7 207.1 551.5 204.1 551.9C201.1 552.4 198.4 552.4 195.9 551.9C193.4 551.5 190.9 550.6 189.0 549.2C187.1 547.8 185.3 546.1 184.2 543.7C183.1 541.3 182.5 537.6 182.4 534.8Z" fill="none" stroke="#aaaaaa" stroke-width="1.15"/>
<path d="M182.7 535.1h6.7l-2.1 -3.9l11.3 5.85l-11.3 5.85l2.1 -3.9h-6.7z" fill="#fff"/>
<g clip-path="url(#c01)"><filter id="f2" x="-20%" y="-20%" width="140%" height="140%" color-interpolation-filters="sRGB"><feGaussianBlur in="SourceGraphic" stdDeviation="4.0" result="bl"/><feComponentTransfer in="bl" result="sh"><feFuncA type="linear" slope="2" intercept="-1"/></feComponentTransfer><feTurbulence type="fractalNoise" baseFrequency="0.55" numOctaves="2" seed="7" result="t"/><feColorMatrix in="t" type="matrix" values="0 0 0 0 0  0 0 0 0 0  0 0 0 0 0  2.60 0 0 0 -0.85" result="n"/><feTurbulence type="fractalNoise" baseFrequency="0.07" numOctaves="2" seed="57" result="t2"/><feColorMatrix in="t2" type="matrix" values="0 0 0 0 0  0 0 0 0 0  0 0 0 0 0  3.50 0 0 0 -1.20" result="n2"/><feComposite in="n" in2="n2" operator="in" result="n"/><feComposite in="sh" in2="n" operator="in" result="c"/><feGaussianBlur in="c" stdDeviation="0.5"/></filter><path d="M296.5 534.8C296.2 531.3 296.7 525.5 297.6 522.4C298.4 519.3 299.5 518.1 301.7 516.2C303.9 514.2 308.2 512.6 310.6 510.7C313.0 508.7 314.1 505.9 316.1 504.5C318.2 503.1 320.0 502.7 323.0 502.4C326.0 502.1 330.6 502.1 334.0 502.7C337.4 503.3 340.6 504.3 343.6 505.9C346.6 507.4 349.8 509.5 351.9 512.1C353.9 514.6 355.0 517.9 356.0 521.0C357.0 524.1 358.1 527.2 358.1 530.6C358.1 534.1 357.3 538.6 356.0 541.6C354.7 544.6 352.3 546.4 350.5 548.5C348.7 550.6 347.8 552.4 345.0 554.0C342.3 555.7 337.7 557.6 334.0 558.4C330.3 559.2 326.7 559.2 323.0 559.1C319.3 558.9 315.1 558.6 312.0 557.4C308.9 556.2 306.6 554.3 304.4 551.9C302.3 549.5 300.3 545.9 298.9 543.0C297.6 540.1 296.7 538.2 296.5 534.8Z" fill="#620000" opacity="0.50" filter="url(#f2)"/></g>
<path d="M296.5 534.8C296.2 531.3 296.7 525.5 297.6 522.4C298.4 519.3 299.5 518.1 301.7 516.2C303.9 514.2 308.2 512.6 310.6 510.7C313.0 508.7 314.1 505.9 316.1 504.5C318.2 503.1 320.0 502.7 323.0 502.4C326.0 502.1 330.6 502.1 334.0 502.7C337.4 503.3 340.6 504.3 343.6 505.9C346.6 507.4 349.8 509.5 351.9 512.1C353.9 514.6 355.0 517.9 356.0 521.0C357.0 524.1 358.1 527.2 358.1 530.6C358.1 534.1 357.3 538.6 356.0 541.6C354.7 544.6 352.3 546.4 350.5 548.5C348.7 550.6 347.8 552.4 345.0 554.0C342.3 555.7 337.7 557.6 334.0 558.4C330.3 559.2 326.7 559.2 323.0 559.1C319.3 558.9 315.1 558.6 312.0 557.4C308.9 556.2 306.6 554.3 304.4 551.9C302.3 549.5 300.3 545.9 298.9 543.0C297.6 540.1 296.7 538.2 296.5 534.8Z" fill="none" stroke="#aaaaaa" stroke-width="1.15"/>
<path d="M311.9 529.1h6.7l-2.1 -3.9l11.3 5.85l-11.3 5.85l2.1 -3.9h-6.7z" fill="#fff"/>
<g clip-path="url(#c02)"><filter id="f3" x="-20%" y="-20%" width="140%" height="140%" color-interpolation-filters="sRGB"><feGaussianBlur in="SourceGraphic" stdDeviation="4.0" result="bl"/><feComponentTransfer in="bl" result="sh"><feFuncA type="linear" slope="2" intercept="-1"/></feComponentTransfer><feTurbulence type="fractalNoise" baseFrequency="0.55" numOctaves="2" seed="10" result="t"/><feColorMatrix in="t" type="matrix" values="0 0 0 0 0  0 0 0 0 0  0 0 0 0 0  2.60 0 0 0 -0.90" result="n"/><feTurbulence type="fractalNoise" baseFrequency="0.07" numOctaves="2" seed="60" result="t2"/><feColorMatrix in="t2" type="matrix" values="0 0 0 0 0  0 0 0 0 0  0 0 0 0 0  3.50 0 0 0 -1.30" result="n2"/><feComposite in="n" in2="n2" operator="in" result="n"/><feComposite in="sh" in2="n" operator="in" result="c"/><feGaussianBlur in="c" stdDeviation="0.5"/></filter><path d="M406.8 534.8C406.7 530.9 407.2 524.9 408.2 521.0C409.2 517.1 410.8 514.1 413.0 511.4C415.2 508.6 418.3 506.3 421.3 504.5C424.2 502.7 427.7 501.2 430.9 500.4C434.1 499.6 437.3 499.3 440.5 499.7C443.7 500.0 447.5 500.9 450.1 502.4C452.8 503.9 454.6 506.0 456.3 508.6C458.0 511.3 459.4 515.0 460.4 518.3C461.5 521.5 462.3 525.1 462.5 527.9C462.7 530.6 462.7 532.2 461.8 534.8C460.9 537.3 459.2 540.3 457.0 543.0C454.8 545.8 451.7 549.0 448.8 551.3C445.8 553.5 442.3 555.6 439.1 556.8C435.9 557.9 432.7 558.5 429.5 558.4C426.3 558.3 422.7 557.3 419.9 556.1C417.0 554.9 414.1 553.2 412.3 551.3C410.5 549.3 409.8 547.1 408.9 544.4C408.0 541.6 406.9 538.6 406.8 534.8Z" fill="#480000" opacity="0.40" filter="url(#f3)"/></g>
<path d="M406.8 534.8C406.7 530.9 407.2 524.9 408.2 521.0C409.2 517.1 410.8 514.1 413.0 511.4C415.2 508.6 418.3 506.3 421.3 504.5C424.2 502.7 427.7 501.2 430.9 500.4C434.1 499.6 437.3 499.3 440.5 499.7C443.7 500.0 447.5 500.9 450.1 502.4C452.8 503.9 454.6 506.0 456.3 508.6C458.0 511.3 459.4 515.0 460.4 518.3C461.5 521.5 462.3 525.1 462.5 527.9C462.7 530.6 462.7 532.2 461.8 534.8C460.9 537.3 459.2 540.3 457.0 543.0C454.8 545.8 451.7 549.0 448.8 551.3C445.8 553.5 442.3 555.6 439.1 556.8C435.9 557.9 432.7 558.5 429.5 558.4C426.3 558.3 422.7 557.3 419.9 556.1C417.0 554.9 414.1 553.2 412.3 551.3C410.5 549.3 409.8 547.1 408.9 544.4C408.0 541.6 406.9 538.6 406.8 534.8Z" fill="none" stroke="#aaaaaa" stroke-width="1.15"/>
<path d="M412.9 533.1h6.7l-2.1 -3.9l11.3 5.85l-11.3 5.85l2.1 -3.9h-6.7z" fill="#fff"/>
<g clip-path="url(#c03)"><filter id="f4" x="-20%" y="-20%" width="140%" height="140%" color-interpolation-filters="sRGB"><feGaussianBlur in="SourceGraphic" stdDeviation="4.0" result="bl"/><feComponentTransfer in="bl" result="sh"><feFuncA type="linear" slope="2" intercept="-1"/></feComponentTransfer><feTurbulence type="fractalNoise" baseFrequency="0.55" numOctaves="2" seed="13" result="t"/><feColorMatrix in="t" type="matrix" values="0 0 0 0 0  0 0 0 0 0  0 0 0 0 0  2.40 0 0 0 -0.75" result="n"/><feComposite in="sh" in2="n" operator="in" result="c"/><feGaussianBlur in="c" stdDeviation="0.4"/></filter><ellipse cx="539.1" cy="532.0" rx="21.0" ry="17.0" transform="rotate(0 539.1 532.0)" fill="#680000" opacity="0.55" filter="url(#f4)"/><ellipse cx="542.2" cy="521.7" rx="4.5" ry="3.6" fill="#b00000" opacity="0.85" filter="url(#b2)" transform="rotate(30 542.2 521.7)"/></g>
<path d="M517.4 536.1C517.4 533.7 517.5 530.4 518.5 527.9C519.5 525.4 521.5 523.2 523.3 521.0C525.1 518.8 527.8 516.8 529.5 514.8C531.2 512.9 531.6 511.0 533.6 509.3C535.7 507.6 538.9 505.7 541.9 504.5C544.9 503.3 548.3 502.4 551.5 502.2C554.7 501.9 558.1 502.2 561.1 503.1C564.1 504.1 567.1 506.0 569.4 507.9C571.7 509.9 573.5 512.2 574.9 514.8C576.3 517.4 577.6 520.9 577.9 523.8C578.2 526.6 577.8 529.6 576.9 532.0C576.1 534.4 574.4 536.4 572.8 538.2C571.2 540.0 569.0 541.2 567.3 543.0C565.6 544.8 564.2 547.5 562.5 549.2C560.8 550.9 559.3 552.1 557.0 553.3C554.7 554.5 551.7 555.8 548.8 556.3C545.8 556.8 542.3 556.7 539.1 556.3C535.9 555.9 532.3 555.2 529.5 554.0C526.8 552.8 524.5 551.1 522.6 549.2C520.8 547.2 519.4 544.5 518.5 542.3C517.6 540.1 517.4 538.5 517.4 536.1Z" fill="none" stroke="#aaaaaa" stroke-width="1.15"/>
<path d="M515.0 519.1h6.7l-2.1 -3.9l11.3 5.85l-11.3 5.85l2.1 -3.9h-6.7z" fill="#fff"/>
<g clip-path="url(#t10)"><g fill="#8cc800" filter="url(#b1)"><circle cx="255.0" cy="663.4" r="1.6" opacity="0.60"/><circle cx="259.1" cy="664.8" r="1.5" opacity="0.60"/><circle cx="255.0" cy="682.6" r="1.6" opacity="0.60"/><circle cx="252.3" cy="673.0" r="1.3" opacity="0.40"/><circle cx="258.4" cy="673.0" r="1.3" opacity="0.40"/><circle cx="260.5" cy="662.0" r="1.3" opacity="0.40"/><circle cx="254.3" cy="688.1" r="1.3" opacity="0.60"/><circle cx="259.8" cy="687.4" r="1.2" opacity="0.50"/></g></g>
<g clip-path="url(#c10)"><filter id="f5" x="-20%" y="-20%" width="140%" height="140%" color-interpolation-filters="sRGB"><feGaussianBlur in="SourceGraphic" stdDeviation="4.0" result="bl"/><feComponentTransfer in="bl" result="sh"><feFuncA type="linear" slope="2" intercept="-1"/></feComponentTransfer><feTurbulence type="fractalNoise" baseFrequency="0.22" numOctaves="3" seed="16" result="t"/><feColorMatrix in="t" type="matrix" values="0 0 0 0 0  0 0 0 0 0  0 0 0 0 0  3.00 0 0 0 -1.15" result="n"/><feComposite in="sh" in2="n" operator="in" result="c"/><feGaussianBlur in="c" stdDeviation="0.5"/></filter><ellipse cx="211.0" cy="638.6" rx="22.0" ry="15.0" transform="rotate(-35 211.0 638.6)" fill="#456400" opacity="0.55" filter="url(#f5)"/><g fill="#8cc800" filter="url(#b05)"><circle cx="219.5" cy="633.4" r="1.7" opacity="0.95"/><circle cx="212.4" cy="633.8" r="1.4" opacity="0.76"/><circle cx="204.1" cy="636.6" r="1.2" opacity="0.66"/><circle cx="200.7" cy="637.0" r="1.2" opacity="0.66"/><circle cx="215.1" cy="620.1" r="1.1" opacity="0.57"/><circle cx="213.8" cy="641.4" r="1.2" opacity="0.57"/><circle cx="206.9" cy="648.9" r="1.2" opacity="0.57"/><circle cx="194.5" cy="655.8" r="1.4" opacity="0.66"/><circle cx="224.8" cy="630.4" r="1.1" opacity="0.57"/><circle cx="202.8" cy="626.3" r="0.9" opacity="0.38"/><circle cx="216.5" cy="626.3" r="0.9" opacity="0.47"/><circle cx="220.6" cy="644.1" r="0.9" opacity="0.47"/><circle cx="226.1" cy="645.5" r="0.9" opacity="0.38"/><circle cx="197.3" cy="651.0" r="0.9" opacity="0.47"/><circle cx="209.6" cy="640.0" r="0.9" opacity="0.47"/><circle cx="206.2" cy="652.4" r="0.9" opacity="0.47"/><circle cx="218.6" cy="638.6" r="0.9" opacity="0.47"/></g></g>
<path d="M183.1 642.8C183.0 639.9 183.3 637.3 184.2 634.5C185.1 631.8 186.5 628.9 188.3 626.3C190.1 623.6 192.7 620.9 195.2 618.7C197.7 616.5 200.7 614.6 203.4 613.2C206.2 611.8 208.9 611.0 211.7 610.4C214.4 609.9 217.2 609.9 219.9 610.0C222.7 610.2 225.9 610.4 228.2 611.4C230.5 612.4 232.1 614.2 233.7 615.9C235.2 617.7 236.7 620.2 237.5 622.1C238.3 624.1 238.7 625.3 238.5 627.6C238.3 629.9 237.6 633.1 236.4 635.9C235.3 638.6 233.7 641.6 231.6 644.1C229.6 646.6 226.9 648.8 224.1 651.0C221.2 653.2 217.6 655.7 214.4 657.2C211.2 658.7 207.8 659.5 204.8 659.9C201.8 660.4 199.1 660.4 196.6 659.9C194.0 659.5 191.6 658.6 189.7 657.2C187.7 655.8 186.0 654.1 184.9 651.7C183.8 649.3 183.2 645.6 183.1 642.8Z" fill="none" stroke="#aaaaaa" stroke-width="1.15"/>
<path d="M183.0 643.0h6.7l-2.1 -3.9l11.3 5.85l-11.3 5.85l2.1 -3.9h-6.7z" fill="#fff"/>
<g clip-path="url(#c11)"><filter id="f6" x="-20%" y="-20%" width="140%" height="140%" color-interpolation-filters="sRGB"><feGaussianBlur in="SourceGraphic" stdDeviation="4.0" result="bl"/><feComponentTransfer in="bl" result="sh"><feFuncA type="linear" slope="2" intercept="-1"/></feComponentTransfer><feTurbulence type="fractalNoise" baseFrequency="0.22" numOctaves="3" seed="19" result="t"/><feColorMatrix in="t" type="matrix" values="0 0 0 0 0  0 0 0 0 0  0 0 0 0 0  3.00 0 0 0 -1.15" result="n"/><feComposite in="sh" in2="n" operator="in" result="c"/><feGaussianBlur in="c" stdDeviation="0.5"/></filter><ellipse cx="328.5" cy="641.4" rx="26.0" ry="20.0" transform="rotate(0 328.5 641.4)" fill="#456400" opacity="0.55" filter="url(#f6)"/><g fill="#8cc800" filter="url(#b05)"><circle cx="301.0" cy="630.1" r="1.6" opacity="0.95"/><circle cx="316.1" cy="626.0" r="1.2" opacity="0.66"/><circle cx="309.9" cy="630.1" r="1.2" opacity="0.66"/><circle cx="320.3" cy="630.4" r="1.2" opacity="0.57"/><circle cx="332.6" cy="627.6" r="1.2" opacity="0.66"/><circle cx="338.1" cy="626.3" r="1.2" opacity="0.66"/><circle cx="347.1" cy="629.0" r="1.2" opacity="0.66"/><circle cx="350.5" cy="628.7" r="1.1" opacity="0.66"/><circle cx="329.9" cy="632.4" r="1.1" opacity="0.57"/><circle cx="329.9" cy="637.3" r="1.4" opacity="0.76"/><circle cx="334.0" cy="639.3" r="1.4" opacity="0.76"/><circle cx="338.1" cy="642.8" r="1.2" opacity="0.66"/><circle cx="327.1" cy="645.5" r="1.2" opacity="0.66"/><circle cx="339.5" cy="649.6" r="1.2" opacity="0.66"/><circle cx="331.3" cy="655.1" r="1.6" opacity="0.85"/><circle cx="318.9" cy="657.9" r="1.4" opacity="0.76"/><circle cx="313.7" cy="663.1" r="1.7" opacity="0.85"/><circle cx="308.6" cy="640.7" r="1.1" opacity="0.57"/><circle cx="312.0" cy="642.8" r="0.9" opacity="0.47"/><circle cx="323.0" cy="649.6" r="0.9" opacity="0.47"/><circle cx="344.3" cy="659.3" r="0.9" opacity="0.47"/><circle cx="325.8" cy="626.3" r="0.9" opacity="0.38"/></g></g>
<path d="M296.9 643.4C296.6 640.0 297.1 634.2 298.0 631.1C298.8 628.0 299.9 626.8 302.1 624.9C304.3 622.9 308.6 621.3 311.0 619.4C313.4 617.4 314.5 614.6 316.5 613.2C318.6 611.8 320.4 611.4 323.4 611.1C326.4 610.8 331.0 610.8 334.4 611.4C337.9 612.0 341.1 613.0 344.0 614.6C347.0 616.1 350.2 618.2 352.3 620.8C354.4 623.3 355.4 626.6 356.4 629.7C357.4 632.8 358.5 635.9 358.5 639.3C358.5 642.8 357.7 647.3 356.4 650.3C355.2 653.3 352.7 655.1 350.9 657.2C349.1 659.3 348.2 661.0 345.4 662.7C342.7 664.3 338.1 666.2 334.4 667.1C330.7 667.9 327.1 667.9 323.4 667.8C319.7 667.6 315.5 667.3 312.4 666.1C309.3 664.9 307.0 663.0 304.9 660.6C302.7 658.2 300.7 654.6 299.4 651.7C298.0 648.8 297.1 646.9 296.9 643.4Z" fill="none" stroke="#aaaaaa" stroke-width="1.15"/>
<path d="M311.9 637.1h6.7l-2.1 -3.9l11.3 5.85l-11.3 5.85l2.1 -3.9h-6.7z" fill="#fff"/>
<g clip-path="url(#c12)"><filter id="f7" x="-20%" y="-20%" width="140%" height="140%" color-interpolation-filters="sRGB"><feGaussianBlur in="SourceGraphic" stdDeviation="3.0" result="bl"/><feComponentTransfer in="bl" result="sh"><feFuncA type="linear" slope="2" intercept="-1"/></feComponentTransfer><feTurbulence type="fractalNoise" baseFrequency="0.20" numOctaves="3" seed="22" result="t"/><feColorMatrix in="t" type="matrix" values="0 0 0 0 0  0 0 0 0 0  0 0 0 0 0  3.00 0 0 0 -1.10" result="n"/><feComposite in="sh" in2="n" operator="in" result="c"/><feGaussianBlur in="c" stdDeviation="0.5"/></filter><ellipse cx="435.0" cy="640.0" rx="25.0" ry="21.0" transform="rotate(0 435.0 640.0)" fill="#456400" opacity="0.60" filter="url(#f7)"/><g fill="#8cc800" filter="url(#b05)"><circle cx="451.5" cy="631.8" r="1.9" opacity="0.95"/><circle cx="447.4" cy="636.6" r="1.6" opacity="0.85"/><circle cx="432.9" cy="633.1" r="1.7" opacity="0.85"/><circle cx="437.8" cy="637.9" r="1.5" opacity="0.76"/><circle cx="457.0" cy="644.1" r="1.7" opacity="0.85"/><circle cx="446.0" cy="646.9" r="1.4" opacity="0.76"/><circle cx="416.4" cy="626.9" r="1.5" opacity="0.76"/><circle cx="411.6" cy="635.2" r="1.4" opacity="0.76"/><circle cx="412.3" cy="647.6" r="1.4" opacity="0.76"/><circle cx="410.3" cy="655.1" r="1.3" opacity="0.85"/><circle cx="421.3" cy="663.4" r="1.1" opacity="0.66"/><circle cx="439.1" cy="622.1" r="1.2" opacity="0.47"/><circle cx="432.3" cy="655.1" r="1.3" opacity="0.57"/><circle cx="443.3" cy="652.4" r="1.3" opacity="0.57"/><circle cx="425.4" cy="633.1" r="1.2" opacity="0.57"/><circle cx="428.1" cy="642.8" r="1.3" opacity="0.57"/><circle cx="440.5" cy="630.4" r="1.3" opacity="0.66"/><circle cx="452.9" cy="640.0" r="1.3" opacity="0.57"/><circle cx="421.3" cy="646.9" r="1.1" opacity="0.47"/><circle cx="436.4" cy="646.9" r="1.2" opacity="0.57"/></g></g>
<path d="M407.2 643.4C407.1 639.5 407.6 633.6 408.6 629.7C409.6 625.8 411.2 622.8 413.4 620.1C415.6 617.3 418.7 615.0 421.7 613.2C424.6 611.4 428.1 609.9 431.3 609.1C434.5 608.3 437.7 608.0 440.9 608.4C444.1 608.7 447.9 609.6 450.5 611.1C453.2 612.6 455.0 614.7 456.7 617.3C458.4 619.9 459.8 623.7 460.9 626.9C461.9 630.1 462.7 633.8 462.9 636.6C463.1 639.3 463.1 640.9 462.2 643.4C461.3 646.0 459.6 648.9 457.4 651.7C455.2 654.4 452.1 657.6 449.2 659.9C446.2 662.2 442.7 664.2 439.5 665.4C436.3 666.6 433.1 667.2 429.9 667.1C426.7 667.0 423.2 665.9 420.3 664.8C417.4 663.6 414.6 661.9 412.7 659.9C410.9 658.0 410.2 655.8 409.3 653.1C408.4 650.3 407.3 647.3 407.2 643.4Z" fill="none" stroke="#aaaaaa" stroke-width="1.15"/>
<path d="M412.9 641.1h6.7l-2.1 -3.9l11.3 5.85l-11.3 5.85l2.1 -3.9h-6.7z" fill="#fff"/>
<g clip-path="url(#t13)"><g fill="#8cc800" filter="url(#b1)"><circle cx="573.2" cy="586.7" r="1.4" opacity="1.00"/></g></g>
<g clip-path="url(#c13)"><filter id="f8" x="-20%" y="-20%" width="140%" height="140%" color-interpolation-filters="sRGB"><feGaussianBlur in="SourceGraphic" stdDeviation="3.0" result="bl"/><feComponentTransfer in="bl" result="sh"><feFuncA type="linear" slope="2" intercept="-1"/></feComponentTransfer><feTurbulence type="fractalNoise" baseFrequency="0.20" numOctaves="3" seed="25" result="t"/><feColorMatrix in="t" type="matrix" values="0 0 0 0 0  0 0 0 0 0  0 0 0 0 0  3.00 0 0 0 -1.10" result="n"/><feComposite in="sh" in2="n" operator="in" result="c"/><feGaussianBlur in="c" stdDeviation="0.5"/></filter><ellipse cx="546.0" cy="637.3" rx="25.0" ry="20.0" transform="rotate(0 546.0 637.3)" fill="#456400" opacity="0.60" filter="url(#f8)"/><ellipse cx="543.9" cy="629.0" rx="3.6" ry="5.0" fill="#98d408" opacity="1.00" filter="url(#b2)" transform="rotate(-20 543.9 629.0)"/><g fill="#8cc800" filter="url(#b05)"><circle cx="540.5" cy="622.1" r="1.8" opacity="0.85"/><circle cx="550.1" cy="625.6" r="1.9" opacity="0.85"/><circle cx="561.1" cy="622.8" r="1.9" opacity="0.76"/><circle cx="565.9" cy="630.4" r="1.6" opacity="0.66"/><circle cx="568.0" cy="637.9" r="1.4" opacity="0.57"/><circle cx="544.6" cy="647.6" r="1.6" opacity="0.66"/><circle cx="535.0" cy="629.0" r="1.6" opacity="0.66"/><circle cx="527.4" cy="636.6" r="1.6" opacity="0.57"/><circle cx="532.3" cy="653.8" r="1.4" opacity="0.57"/><circle cx="527.4" cy="656.5" r="1.2" opacity="0.57"/><circle cx="543.3" cy="659.9" r="1.2" opacity="0.57"/><circle cx="537.8" cy="659.9" r="1.2" opacity="0.57"/><circle cx="562.5" cy="649.6" r="1.2" opacity="0.47"/><circle cx="519.9" cy="639.3" r="1.1" opacity="0.76"/><circle cx="550.1" cy="633.1" r="1.8" opacity="0.76"/><circle cx="554.3" cy="620.8" r="1.2" opacity="0.47"/><circle cx="536.4" cy="645.5" r="1.2" opacity="0.47"/></g></g>
<path d="M517.8 644.5C517.8 642.1 517.9 638.8 518.9 636.3C519.9 633.8 521.9 631.6 523.7 629.4C525.6 627.2 528.2 625.2 529.9 623.2C531.6 621.3 532.0 619.4 534.0 617.7C536.1 616.0 539.3 614.1 542.3 612.9C545.3 611.7 548.7 610.8 551.9 610.6C555.1 610.3 558.6 610.6 561.5 611.5C564.5 612.5 567.5 614.4 569.8 616.4C572.1 618.3 573.9 620.6 575.3 623.2C576.7 625.9 578.0 629.3 578.3 632.2C578.7 635.0 578.2 638.0 577.4 640.4C576.5 642.8 574.8 644.8 573.2 646.6C571.6 648.4 569.4 649.6 567.7 651.4C566.0 653.2 564.6 655.9 562.9 657.6C561.2 659.3 559.7 660.5 557.4 661.7C555.1 662.9 552.1 664.2 549.2 664.8C546.2 665.3 542.7 665.1 539.5 664.8C536.3 664.4 532.7 663.6 529.9 662.4C527.2 661.2 524.9 659.5 523.0 657.6C521.2 655.7 519.8 652.9 518.9 650.7C518.0 648.5 517.8 646.9 517.8 644.5Z" fill="none" stroke="#aaaaaa" stroke-width="1.15"/>
<path d="M515.0 627.1h6.7l-2.1 -3.9l11.3 5.85l-11.3 5.85l2.1 -3.9h-6.7z" fill="#fff"/>
<g clip-path="url(#c20)"><filter id="f9" x="-20%" y="-20%" width="140%" height="140%" color-interpolation-filters="sRGB"><feGaussianBlur in="SourceGraphic" stdDeviation="4.0" result="bl"/><feComponentTransfer in="bl" result="sh"><feFuncA type="linear" slope="2" intercept="-1"/></feComponentTransfer><feTurbulence type="fractalNoise" baseFrequency="0.55" numOctaves="2" seed="28" result="t"/><feColorMatrix in="t" type="matrix" values="0 0 0 0 0  0 0 0 0 0  0 0 0 0 0  2.60 0 0 0 -0.85" result="n"/><feTurbulence type="fractalNoise" baseFrequency="0.07" numOctaves="2" seed="78" result="t2"/><feColorMatrix in="t2" type="matrix" values="0 0 0 0 0  0 0 0 0 0  0 0 0 0 0  3.50 0 0 0 -1.20" result="n2"/><feComposite in="n" in2="n2" operator="in" result="n"/><feComposite in="sh" in2="n" operator="in" result="c"/><feGaussianBlur in="c" stdDeviation="0.5"/></filter><path d="M187.4 733.9C187.4 731.6 187.9 729.2 189.0 727.0C190.1 724.8 192.0 722.6 193.8 720.8C195.6 719.0 197.7 717.3 200.0 716.0C202.3 714.7 205.0 713.6 207.6 713.3C210.1 712.9 212.7 713.1 215.1 713.9C217.5 714.7 219.9 716.2 222.0 718.1C224.1 719.9 225.8 722.5 227.5 724.9C229.2 727.3 231.1 729.9 232.3 732.5C233.5 735.1 234.3 738.0 234.7 740.8C235.0 743.5 235.0 746.3 234.4 749.0C233.8 751.8 232.4 754.7 230.9 757.3C229.4 759.8 227.5 762.4 225.4 764.1C223.4 765.8 221.0 767.1 218.6 767.6C216.2 768.0 213.5 767.7 211.0 766.9C208.5 766.1 205.8 764.5 203.4 762.8C201.0 761.0 198.5 758.9 196.6 756.6C194.6 754.3 193.1 751.6 191.8 749.0C190.4 746.4 189.5 743.3 188.7 740.8C188.0 738.2 187.3 736.2 187.4 733.9Z" fill="#5a0000" opacity="0.50" filter="url(#f9)"/></g>
<path d="M187.4 733.9C187.4 731.6 187.9 729.2 189.0 727.0C190.1 724.8 192.0 722.6 193.8 720.8C195.6 719.0 197.7 717.3 200.0 716.0C202.3 714.7 205.0 713.6 207.6 713.3C210.1 712.9 212.7 713.1 215.1 713.9C217.5 714.7 219.9 716.2 222.0 718.1C224.1 719.9 225.8 722.5 227.5 724.9C229.2 727.3 231.1 729.9 232.3 732.5C233.5 735.1 234.3 738.0 234.7 740.8C235.0 743.5 235.0 746.3 234.4 749.0C233.8 751.8 232.4 754.7 230.9 757.3C229.4 759.8 227.5 762.4 225.4 764.1C223.4 765.8 221.0 767.1 218.6 767.6C216.2 768.0 213.5 767.7 211.0 766.9C208.5 766.1 205.8 764.5 203.4 762.8C201.0 761.0 198.5 758.9 196.6 756.6C194.6 754.3 193.1 751.6 191.8 749.0C190.4 746.4 189.5 743.3 188.7 740.8C188.0 738.2 187.3 736.2 187.4 733.9Z" fill="none" stroke="#aaaaaa" stroke-width="1.15"/>
<path d="M184.8 731.1h6.7l-2.1 -3.9l11.3 5.85l-11.3 5.85l2.1 -3.9h-6.7z" fill="#fff"/>
<g clip-path="url(#c21)"><filter id="f10" x="-20%" y="-20%" width="140%" height="140%" color-interpolation-filters="sRGB"><feGaussianBlur in="SourceGraphic" stdDeviation="4.0" result="bl"/><feComponentTransfer in="bl" result="sh"><feFuncA type="linear" slope="2" intercept="-1"/></feComponentTransfer><feTurbulence type="fractalNoise" baseFrequency="0.45" numOctaves="2" seed="31" result="t"/><feColorMatrix in="t" type="matrix" values="0 0 0 0 0  0 0 0 0 0  0 0 0 0 0  2.40 0 0 0 -0.70" result="n"/><feComposite in="sh" in2="n" operator="in" result="c"/><feGaussianBlur in="c" stdDeviation="0.5"/></filter><path d="M296.6 743.5C296.5 741.2 296.4 737.8 297.2 735.3C297.9 732.7 299.2 730.3 301.0 728.4C302.8 726.5 305.4 724.9 307.9 724.0C310.4 723.0 313.4 722.7 316.1 722.6C318.9 722.5 321.9 722.7 324.4 723.6C326.9 724.4 329.0 726.0 331.3 727.7C333.5 729.4 336.1 731.8 338.1 733.9C340.2 735.9 342.2 737.9 343.6 740.1C345.0 742.2 346.2 744.5 346.7 746.9C347.1 749.3 346.8 752.0 346.1 754.5C345.4 757.0 343.9 759.9 342.3 762.1C340.6 764.2 338.4 766.3 336.1 767.6C333.8 768.9 331.0 769.8 328.5 769.9C326.0 770.0 323.5 769.0 320.9 768.3C318.4 767.5 315.9 766.6 313.4 765.5C310.9 764.4 308.0 763.1 305.8 761.4C303.6 759.7 301.7 757.3 300.3 755.2C298.9 753.1 298.2 750.9 297.6 749.0C296.9 747.1 296.7 745.8 296.6 743.5Z" fill="#780000" opacity="0.60" filter="url(#f10)"/><ellipse cx="322.3" cy="740.5" rx="10.0" ry="4.2" fill="#a00000" opacity="0.70" filter="url(#b2)" transform="rotate(5 322.3 740.5)"/><g fill="#e00000" filter="url(#b1)"><circle cx="329.2" cy="742.8" r="1.6" opacity="0.90"/><circle cx="318.9" cy="735.3" r="1.3" opacity="0.60"/><circle cx="313.4" cy="741.4" r="1.2" opacity="0.50"/></g></g>
<path d="M296.6 743.5C296.5 741.2 296.4 737.8 297.2 735.3C297.9 732.7 299.2 730.3 301.0 728.4C302.8 726.5 305.4 724.9 307.9 724.0C310.4 723.0 313.4 722.7 316.1 722.6C318.9 722.5 321.9 722.7 324.4 723.6C326.9 724.4 329.0 726.0 331.3 727.7C333.5 729.4 336.1 731.8 338.1 733.9C340.2 735.9 342.2 737.9 343.6 740.1C345.0 742.2 346.2 744.5 346.7 746.9C347.1 749.3 346.8 752.0 346.1 754.5C345.4 757.0 343.9 759.9 342.3 762.1C340.6 764.2 338.4 766.3 336.1 767.6C333.8 768.9 331.0 769.8 328.5 769.9C326.0 770.0 323.5 769.0 320.9 768.3C318.4 767.5 315.9 766.6 313.4 765.5C310.9 764.4 308.0 763.1 305.8 761.4C303.6 759.7 301.7 757.3 300.3 755.2C298.9 753.1 298.2 750.9 297.6 749.0C296.9 747.1 296.7 745.8 296.6 743.5Z" fill="none" stroke="#aaaaaa" stroke-width="1.15"/>
<path d="M296.1 739.1h6.7l-2.1 -3.9l11.3 5.85l-11.3 5.85l2.1 -3.9h-6.7z" fill="#fff"/>
<g clip-path="url(#t22)"><g fill="#b00000" filter="url(#b1)"><circle cx="459.8" cy="796.4" r="1.6" opacity="0.20"/><circle cx="468.0" cy="795.8" r="1.6" opacity="0.20"/><circle cx="481.8" cy="794.4" r="1.6" opacity="0.20"/><circle cx="479.0" cy="788.9" r="1.6" opacity="0.15"/></g></g>
<g clip-path="url(#c22)"><filter id="f11" x="-20%" y="-20%" width="140%" height="140%" color-interpolation-filters="sRGB"><feGaussianBlur in="SourceGraphic" stdDeviation="4.0" result="bl"/><feComponentTransfer in="bl" result="sh"><feFuncA type="linear" slope="2" intercept="-1"/></feComponentTransfer><feTurbulence type="fractalNoise" baseFrequency="0.50" numOctaves="2" seed="34" result="t"/><feColorMatrix in="t" type="matrix" values="0 0 0 0 0  0 0 0 0 0  0 0 0 0 0  2.60 0 0 0 -0.85" result="n"/><feTurbulence type="fractalNoise" baseFrequency="0.07" numOctaves="2" seed="84" result="t2"/><feColorMatrix in="t2" type="matrix" values="0 0 0 0 0  0 0 0 0 0  0 0 0 0 0  3.50 0 0 0 -1.20" result="n2"/><feComposite in="n" in2="n2" operator="in" result="n"/><feComposite in="sh" in2="n" operator="in" result="c"/><feGaussianBlur in="c" stdDeviation="0.5"/></filter><path d="M414.1 762.8C414.1 760.6 414.4 757.6 415.1 755.2C415.7 752.8 416.7 750.5 417.8 748.3C419.0 746.1 420.6 744.2 421.9 742.1C423.3 740.1 424.5 737.7 426.1 735.9C427.7 734.2 429.4 732.9 431.6 731.8C433.7 730.7 436.3 729.9 439.1 729.5C442.0 729.1 445.9 728.9 448.8 729.3C451.6 729.7 454.1 730.5 456.3 731.8C458.5 733.1 460.3 735.3 461.8 737.3C463.3 739.4 464.4 741.8 465.3 744.2C466.1 746.6 466.6 749.1 466.6 751.8C466.6 754.4 466.1 757.4 465.3 760.0C464.4 762.6 463.3 765.2 461.8 767.6C460.3 770.0 458.4 772.5 456.3 774.4C454.3 776.4 451.8 778.1 449.4 779.3C447.0 780.4 444.5 781.2 441.9 781.6C439.2 781.9 436.4 781.8 433.6 781.3C430.9 780.8 427.8 779.8 425.4 778.6C423.0 777.3 420.9 775.5 419.2 773.8C417.5 772.0 416.2 770.1 415.3 768.3C414.5 766.4 414.1 764.9 414.1 762.8Z" fill="#5a0000" opacity="0.50" filter="url(#f11)"/><ellipse cx="438.0" cy="741.4" rx="3.2" ry="3.4" fill="#f00000" opacity="1.00" filter="url(#b2)" transform="rotate(0 438.0 741.4)"/><ellipse cx="440.5" cy="744.2" rx="7.0" ry="7.0" fill="#580000" opacity="0.50" filter="url(#b3)" transform="rotate(0 440.5 744.2)"/></g>
<path d="M414.1 762.8C414.1 760.6 414.4 757.6 415.1 755.2C415.7 752.8 416.7 750.5 417.8 748.3C419.0 746.1 420.6 744.2 421.9 742.1C423.3 740.1 424.5 737.7 426.1 735.9C427.7 734.2 429.4 732.9 431.6 731.8C433.7 730.7 436.3 729.9 439.1 729.5C442.0 729.1 445.9 728.9 448.8 729.3C451.6 729.7 454.1 730.5 456.3 731.8C458.5 733.1 460.3 735.3 461.8 737.3C463.3 739.4 464.4 741.8 465.3 744.2C466.1 746.6 466.6 749.1 466.6 751.8C466.6 754.4 466.1 757.4 465.3 760.0C464.4 762.6 463.3 765.2 461.8 767.6C460.3 770.0 458.4 772.5 456.3 774.4C454.3 776.4 451.8 778.1 449.4 779.3C447.0 780.4 444.5 781.2 441.9 781.6C439.2 781.9 436.4 781.8 433.6 781.3C430.9 780.8 427.8 779.8 425.4 778.6C423.0 777.3 420.9 775.5 419.2 773.8C417.5 772.0 416.2 770.1 415.3 768.3C414.5 766.4 414.1 764.9 414.1 762.8Z" fill="none" stroke="#aaaaaa" stroke-width="1.15"/>
<path d="M415.0 739.1h6.7l-2.1 -3.9l11.3 5.85l-11.3 5.85l2.1 -3.9h-6.7z" fill="#fff"/>
<g clip-path="url(#c23)"><filter id="f12" x="-20%" y="-20%" width="140%" height="140%" color-interpolation-filters="sRGB"><feGaussianBlur in="SourceGraphic" stdDeviation="4.0" result="bl"/><feComponentTransfer in="bl" result="sh"><feFuncA type="linear" slope="2" intercept="-1"/></feComponentTransfer><feTurbulence type="fractalNoise" baseFrequency="0.45" numOctaves="2" seed="37" result="t"/><feColorMatrix in="t" type="matrix" values="0 0 0 0 0  0 0 0 0 0  0 0 0 0 0  1.80 0 0 0 -0.25" result="n"/><feComposite in="sh" in2="n" operator="in" result="c"/><feGaussianBlur in="c" stdDeviation="0.5"/></filter><path d="M523.3 749.0C523.2 746.7 523.3 744.4 524.0 742.1C524.7 739.8 526.1 737.3 527.4 735.3C528.8 733.2 530.8 731.6 532.3 729.8C533.7 727.9 534.8 725.6 536.4 724.3C538.0 722.9 539.6 722.0 541.9 721.5C544.2 721.0 547.4 720.9 550.1 721.1C552.9 721.3 555.9 721.8 558.4 722.9C560.9 724.0 563.4 725.9 565.3 727.7C567.1 729.5 568.4 731.7 569.4 733.9C570.4 736.1 570.9 738.2 571.2 740.8C571.4 743.3 571.4 746.4 570.8 749.0C570.1 751.6 568.8 754.2 567.3 756.6C565.8 759.0 563.9 761.4 561.8 763.4C559.8 765.5 557.3 767.6 554.9 768.9C552.5 770.3 550.0 771.4 547.4 771.7C544.7 772.0 541.6 771.3 539.1 770.7C536.6 770.2 534.2 769.7 532.3 768.3C530.3 766.8 528.7 764.1 527.4 762.1C526.2 760.0 525.4 758.1 524.7 755.9C524.0 753.7 523.4 751.3 523.3 749.0Z" fill="#800000" opacity="0.80" filter="url(#f12)"/><ellipse cx="545.3" cy="739.1" rx="4.5" ry="3.0" fill="#c00000" opacity="0.65" filter="url(#b2)" transform="rotate(0 545.3 739.1)"/><ellipse cx="551.5" cy="751.5" rx="4.4" ry="4.4" fill="#000" opacity="0.85" filter="url(#b2)" transform="rotate(0 551.5 751.5)"/></g>
<path d="M523.3 749.0C523.2 746.7 523.3 744.4 524.0 742.1C524.7 739.8 526.1 737.3 527.4 735.3C528.8 733.2 530.8 731.6 532.3 729.8C533.7 727.9 534.8 725.6 536.4 724.3C538.0 722.9 539.6 722.0 541.9 721.5C544.2 721.0 547.4 720.9 550.1 721.1C552.9 721.3 555.9 721.8 558.4 722.9C560.9 724.0 563.4 725.9 565.3 727.7C567.1 729.5 568.4 731.7 569.4 733.9C570.4 736.1 570.9 738.2 571.2 740.8C571.4 743.3 571.4 746.4 570.8 749.0C570.1 751.6 568.8 754.2 567.3 756.6C565.8 759.0 563.9 761.4 561.8 763.4C559.8 765.5 557.3 767.6 554.9 768.9C552.5 770.3 550.0 771.4 547.4 771.7C544.7 772.0 541.6 771.3 539.1 770.7C536.6 770.2 534.2 769.7 532.3 768.3C530.3 766.8 528.7 764.1 527.4 762.1C526.2 760.0 525.4 758.1 524.7 755.9C524.0 753.7 523.4 751.3 523.3 749.0Z" fill="none" stroke="#aaaaaa" stroke-width="1.15"/>
<path d="M524.6 739.1h6.7l-2.1 -3.9l11.3 5.85l-11.3 5.85l2.1 -3.9h-6.7z" fill="#fff"/>
<g clip-path="url(#c30)"><filter id="f13" x="-20%" y="-20%" width="140%" height="140%" color-interpolation-filters="sRGB"><feGaussianBlur in="SourceGraphic" stdDeviation="4.0" result="bl"/><feComponentTransfer in="bl" result="sh"><feFuncA type="linear" slope="2" intercept="-1"/></feComponentTransfer><feTurbulence type="fractalNoise" baseFrequency="0.30" numOctaves="2" seed="40" result="t"/><feColorMatrix in="t" type="matrix" values="0 0 0 0 0  0 0 0 0 0  0 0 0 0 0  3.20 0 0 0 -1.10" result="n"/><feTurbulence type="fractalNoise" baseFrequency="0.08" numOctaves="2" seed="90" result="t2"/><feColorMatrix in="t2" type="matrix" values="0 0 0 0 0  0 0 0 0 0  0 0 0 0 0  4.00 0 0 0 -1.50" result="n2"/><feComposite in="n" in2="n2" operator="in" result="n"/><feComposite in="sh" in2="n" operator="in" result="c"/><feGaussianBlur in="c" stdDeviation="0.7"/></filter><path d="M187.6 842.9C187.7 840.6 188.2 838.2 189.3 836.0C190.4 833.8 192.3 831.6 194.1 829.8C195.9 828.0 198.0 826.3 200.3 825.0C202.6 823.7 205.3 822.6 207.8 822.3C210.4 821.9 213.0 822.1 215.4 822.9C217.8 823.7 220.2 825.2 222.3 827.1C224.3 828.9 226.1 831.5 227.8 833.9C229.5 836.3 231.4 838.9 232.6 841.5C233.8 844.1 234.6 847.0 234.9 849.8C235.3 852.5 235.3 855.3 234.7 858.0C234.0 860.8 232.7 863.7 231.2 866.3C229.7 868.8 227.8 871.4 225.7 873.1C223.7 874.8 221.2 876.1 218.8 876.6C216.4 877.0 213.8 876.7 211.3 875.9C208.8 875.1 206.1 873.5 203.7 871.8C201.3 870.0 198.8 867.9 196.8 865.6C194.9 863.3 193.3 860.6 192.0 858.0C190.7 855.4 189.7 852.3 189.0 849.8C188.3 847.2 187.6 845.2 187.6 842.9Z" fill="#3e5e00" opacity="0.60" filter="url(#f13)"/></g>
<path d="M187.6 842.9C187.7 840.6 188.2 838.2 189.3 836.0C190.4 833.8 192.3 831.6 194.1 829.8C195.9 828.0 198.0 826.3 200.3 825.0C202.6 823.7 205.3 822.6 207.8 822.3C210.4 821.9 213.0 822.1 215.4 822.9C217.8 823.7 220.2 825.2 222.3 827.1C224.3 828.9 226.1 831.5 227.8 833.9C229.5 836.3 231.4 838.9 232.6 841.5C233.8 844.1 234.6 847.0 234.9 849.8C235.3 852.5 235.3 855.3 234.7 858.0C234.0 860.8 232.7 863.7 231.2 866.3C229.7 868.8 227.8 871.4 225.7 873.1C223.7 874.8 221.2 876.1 218.8 876.6C216.4 877.0 213.8 876.7 211.3 875.9C208.8 875.1 206.1 873.5 203.7 871.8C201.3 870.0 198.8 867.9 196.8 865.6C194.9 863.3 193.3 860.6 192.0 858.0C190.7 855.4 189.7 852.3 189.0 849.8C188.3 847.2 187.6 845.2 187.6 842.9Z" fill="none" stroke="#aaaaaa" stroke-width="1.15"/>
<path d="M184.8 839.0h6.7l-2.1 -3.9l11.3 5.85l-11.3 5.85l2.1 -3.9h-6.7z" fill="#fff"/>
<g clip-path="url(#c31)"><filter id="f14" x="-20%" y="-20%" width="140%" height="140%" color-interpolation-filters="sRGB"><feGaussianBlur in="SourceGraphic" stdDeviation="4.0" result="bl"/><feComponentTransfer in="bl" result="sh"><feFuncA type="linear" slope="2" intercept="-1"/></feComponentTransfer><feTurbulence type="fractalNoise" baseFrequency="0.26" numOctaves="2" seed="43" result="t"/><feColorMatrix in="t" type="matrix" values="0 0 0 0 0  0 0 0 0 0  0 0 0 0 0  3.00 0 0 0 -0.90" result="n"/><feTurbulence type="fractalNoise" baseFrequency="0.08" numOctaves="2" seed="93" result="t2"/><feColorMatrix in="t2" type="matrix" values="0 0 0 0 0  0 0 0 0 0  0 0 0 0 0  4.00 0 0 0 -1.30" result="n2"/><feComposite in="n" in2="n2" operator="in" result="n"/><feComposite in="sh" in2="n" operator="in" result="c"/><feGaussianBlur in="c" stdDeviation="0.7"/></filter><path d="M297.2 852.5C297.1 850.2 297.0 846.8 297.7 844.3C298.4 841.7 299.8 839.3 301.6 837.4C303.3 835.5 305.9 833.9 308.4 833.0C310.9 832.0 313.9 831.7 316.7 831.6C319.4 831.5 322.4 831.7 324.9 832.6C327.4 833.4 329.5 835.0 331.8 836.7C334.1 838.4 336.6 840.8 338.7 842.9C340.7 844.9 342.8 846.9 344.2 849.1C345.6 851.2 346.8 853.5 347.2 855.9C347.6 858.3 347.4 861.0 346.7 863.5C345.9 866.0 344.5 868.9 342.8 871.1C341.1 873.2 338.9 875.3 336.6 876.6C334.3 877.9 331.6 878.8 329.1 878.9C326.5 879.0 324.0 878.0 321.5 877.3C319.0 876.5 316.4 875.6 313.9 874.5C311.4 873.4 308.5 872.1 306.4 870.4C304.2 868.7 302.2 866.3 300.9 864.2C299.5 862.1 298.7 859.9 298.1 858.0C297.5 856.1 297.2 854.8 297.2 852.5Z" fill="#78b400" opacity="0.88" filter="url(#f14)"/><ellipse cx="320.8" cy="849.5" rx="4.6" ry="5.2" fill="#b4ec18" opacity="1.00" filter="url(#b2)" transform="rotate(0 320.8 849.5)"/><ellipse cx="315.4" cy="863.5" rx="4.0" ry="3.5" fill="#000" opacity="0.50" filter="url(#b2)" transform="rotate(0 315.4 863.5)"/></g>
<path d="M297.2 852.5C297.1 850.2 297.0 846.8 297.7 844.3C298.4 841.7 299.8 839.3 301.6 837.4C303.3 835.5 305.9 833.9 308.4 833.0C310.9 832.0 313.9 831.7 316.7 831.6C319.4 831.5 322.4 831.7 324.9 832.6C327.4 833.4 329.5 835.0 331.8 836.7C334.1 838.4 336.6 840.8 338.7 842.9C340.7 844.9 342.8 846.9 344.2 849.1C345.6 851.2 346.8 853.5 347.2 855.9C347.6 858.3 347.4 861.0 346.7 863.5C345.9 866.0 344.5 868.9 342.8 871.1C341.1 873.2 338.9 875.3 336.6 876.6C334.3 877.9 331.6 878.8 329.1 878.9C326.5 879.0 324.0 878.0 321.5 877.3C319.0 876.5 316.4 875.6 313.9 874.5C311.4 873.4 308.5 872.1 306.4 870.4C304.2 868.7 302.2 866.3 300.9 864.2C299.5 862.1 298.7 859.9 298.1 858.0C297.5 856.1 297.2 854.8 297.2 852.5Z" fill="none" stroke="#aaaaaa" stroke-width="1.15"/>
<path d="M296.1 847.1h6.7l-2.1 -3.9l11.3 5.85l-11.3 5.85l2.1 -3.9h-6.7z" fill="#fff"/>
<g clip-path="url(#t32)"><g fill="#8cc800" filter="url(#b1)"><circle cx="384.1" cy="806.4" r="1.6" opacity="0.30"/><circle cx="388.3" cy="812.6" r="1.4" opacity="0.30"/><circle cx="384.8" cy="814.7" r="1.4" opacity="0.30"/><circle cx="396.5" cy="809.2" r="1.4" opacity="0.20"/><circle cx="392.4" cy="807.1" r="1.4" opacity="0.20"/></g></g>
<g clip-path="url(#c32)"><filter id="f15" x="-20%" y="-20%" width="140%" height="140%" color-interpolation-filters="sRGB"><feGaussianBlur in="SourceGraphic" stdDeviation="4.0" result="bl"/><feComponentTransfer in="bl" result="sh"><feFuncA type="linear" slope="2" intercept="-1"/></feComponentTransfer><feTurbulence type="fractalNoise" baseFrequency="0.30" numOctaves="2" seed="46" result="t"/><feColorMatrix in="t" type="matrix" values="0 0 0 0 0  0 0 0 0 0  0 0 0 0 0  3.20 0 0 0 -1.05" result="n"/><feTurbulence type="fractalNoise" baseFrequency="0.08" numOctaves="2" seed="96" result="t2"/><feColorMatrix in="t2" type="matrix" values="0 0 0 0 0  0 0 0 0 0  0 0 0 0 0  4.00 0 0 0 -1.30" result="n2"/><feComposite in="n" in2="n2" operator="in" result="n"/><feComposite in="sh" in2="n" operator="in" result="c"/><feGaussianBlur in="c" stdDeviation="0.7"/></filter><path d="M414.4 871.8C414.3 869.6 414.7 866.6 415.3 864.2C416.0 861.8 416.9 859.5 418.1 857.3C419.2 855.1 420.8 853.2 422.2 851.1C423.6 849.1 424.7 846.7 426.3 844.9C427.9 843.2 429.7 841.9 431.8 840.8C434.0 839.7 436.5 838.9 439.4 838.5C442.3 838.1 446.2 837.9 449.0 838.3C451.9 838.7 454.4 839.5 456.6 840.8C458.8 842.1 460.6 844.3 462.1 846.3C463.6 848.4 464.7 850.8 465.5 853.2C466.3 855.6 466.9 858.1 466.9 860.8C466.9 863.4 466.3 866.4 465.5 869.0C464.7 871.6 463.6 874.2 462.1 876.6C460.6 879.0 458.7 881.5 456.6 883.4C454.5 885.4 452.1 887.1 449.7 888.3C447.3 889.4 444.8 890.2 442.2 890.6C439.5 890.9 436.7 890.8 433.9 890.3C431.2 889.8 428.1 888.8 425.7 887.6C423.2 886.3 421.1 884.5 419.5 882.8C417.8 881.0 416.5 879.1 415.6 877.3C414.8 875.4 414.4 873.9 414.4 871.8Z" fill="#6ca000" opacity="0.78" filter="url(#f15)"/><ellipse cx="435.0" cy="870.4" rx="7.0" ry="6.0" fill="#000" opacity="0.75" filter="url(#b3)" transform="rotate(0 435.0 870.4)"/><ellipse cx="438.4" cy="849.8" rx="3.5" ry="3.5" fill="#bcf420" opacity="1.00" filter="url(#b2)" transform="rotate(0 438.4 849.8)"/></g>
<path d="M414.4 871.8C414.3 869.6 414.7 866.6 415.3 864.2C416.0 861.8 416.9 859.5 418.1 857.3C419.2 855.1 420.8 853.2 422.2 851.1C423.6 849.1 424.7 846.7 426.3 844.9C427.9 843.2 429.7 841.9 431.8 840.8C434.0 839.7 436.5 838.9 439.4 838.5C442.3 838.1 446.2 837.9 449.0 838.3C451.9 838.7 454.4 839.5 456.6 840.8C458.8 842.1 460.6 844.3 462.1 846.3C463.6 848.4 464.7 850.8 465.5 853.2C466.3 855.6 466.9 858.1 466.9 860.8C466.9 863.4 466.3 866.4 465.5 869.0C464.7 871.6 463.6 874.2 462.1 876.6C460.6 879.0 458.7 881.5 456.6 883.4C454.5 885.4 452.1 887.1 449.7 888.3C447.3 889.4 444.8 890.2 442.2 890.6C439.5 890.9 436.7 890.8 433.9 890.3C431.2 889.8 428.1 888.8 425.7 887.6C423.2 886.3 421.1 884.5 419.5 882.8C417.8 881.0 416.5 879.1 415.6 877.3C414.8 875.4 414.4 873.9 414.4 871.8Z" fill="none" stroke="#aaaaaa" stroke-width="1.15"/>
<path d="M415.0 847.1h6.7l-2.1 -3.9l11.3 5.85l-11.3 5.85l2.1 -3.9h-6.7z" fill="#fff"/>
<g clip-path="url(#c33)"><filter id="f16" x="-20%" y="-20%" width="140%" height="140%" color-interpolation-filters="sRGB"><feGaussianBlur in="SourceGraphic" stdDeviation="4.0" result="bl"/><feComponentTransfer in="bl" result="sh"><feFuncA type="linear" slope="2" intercept="-1"/></feComponentTransfer><feTurbulence type="fractalNoise" baseFrequency="0.32" numOctaves="2" seed="49" result="t"/><feColorMatrix in="t" type="matrix" values="0 0 0 0 0  0 0 0 0 0  0 0 0 0 0  3.20 0 0 0 -1.05" result="n"/><feTurbulence type="fractalNoise" baseFrequency="0.08" numOctaves="2" seed="99" result="t2"/><feColorMatrix in="t2" type="matrix" values="0 0 0 0 0  0 0 0 0 0  0 0 0 0 0  4.00 0 0 0 -1.30" result="n2"/><feComposite in="n" in2="n2" operator="in" result="n"/><feComposite in="sh" in2="n" operator="in" result="c"/><feGaussianBlur in="c" stdDeviation="0.7"/></filter><path d="M523.3 858.0C523.2 855.7 523.3 853.4 524.0 851.1C524.7 848.8 526.1 846.3 527.4 844.3C528.8 842.2 530.8 840.6 532.3 838.8C533.7 836.9 534.8 834.6 536.4 833.3C538.0 831.9 539.6 831.0 541.9 830.5C544.2 830.0 547.4 829.9 550.1 830.1C552.9 830.3 555.9 830.8 558.4 831.9C560.9 833.0 563.4 834.9 565.3 836.7C567.1 838.5 568.4 840.7 569.4 842.9C570.4 845.1 570.9 847.2 571.2 849.8C571.4 852.3 571.4 855.4 570.8 858.0C570.1 860.6 568.8 863.2 567.3 865.6C565.8 868.0 563.9 870.4 561.8 872.4C559.8 874.5 557.3 876.6 554.9 877.9C552.5 879.3 550.0 880.4 547.4 880.7C544.7 881.0 541.6 880.3 539.1 879.7C536.6 879.2 534.2 878.7 532.3 877.3C530.3 875.8 528.7 873.1 527.4 871.1C526.2 869.0 525.4 867.1 524.7 864.9C524.0 862.7 523.4 860.3 523.3 858.0Z" fill="#6ca000" opacity="0.75" filter="url(#f16)"/><ellipse cx="551.5" cy="860.5" rx="4.2" ry="4.2" fill="#000" opacity="0.80" filter="url(#b2)" transform="rotate(0 551.5 860.5)"/><g fill="#b0f018" filter="url(#b0)"><circle cx="547.1" cy="848.4" r="1.3" opacity="1.00"/></g></g>
<path d="M523.3 858.0C523.2 855.7 523.3 853.4 524.0 851.1C524.7 848.8 526.1 846.3 527.4 844.3C528.8 842.2 530.8 840.6 532.3 838.8C533.7 836.9 534.8 834.6 536.4 833.3C538.0 831.9 539.6 831.0 541.9 830.5C544.2 830.0 547.4 829.9 550.1 830.1C552.9 830.3 555.9 830.8 558.4 831.9C560.9 833.0 563.4 834.9 565.3 836.7C567.1 838.5 568.4 840.7 569.4 842.9C570.4 845.1 570.9 847.2 571.2 849.8C571.4 852.3 571.4 855.4 570.8 858.0C570.1 860.6 568.8 863.2 567.3 865.6C565.8 868.0 563.9 870.4 561.8 872.4C559.8 874.5 557.3 876.6 554.9 877.9C552.5 879.3 550.0 880.4 547.4 880.7C544.7 881.0 541.6 880.3 539.1 879.7C536.6 879.2 534.2 878.7 532.3 877.3C530.3 875.8 528.7 873.1 527.4 871.1C526.2 869.0 525.4 867.1 524.7 864.9C524.0 862.7 523.4 860.3 523.3 858.0Z" fill="none" stroke="#aaaaaa" stroke-width="1.15"/>
<path d="M524.6 847.1h6.7l-2.1 -3.9l11.3 5.85l-11.3 5.85l2.1 -3.9h-6.7z" fill="#fff"/>
<path d="M557.4 899.3H592.3" stroke="#ddd" stroke-width="1.1"/>
</svg>
</body></html>
